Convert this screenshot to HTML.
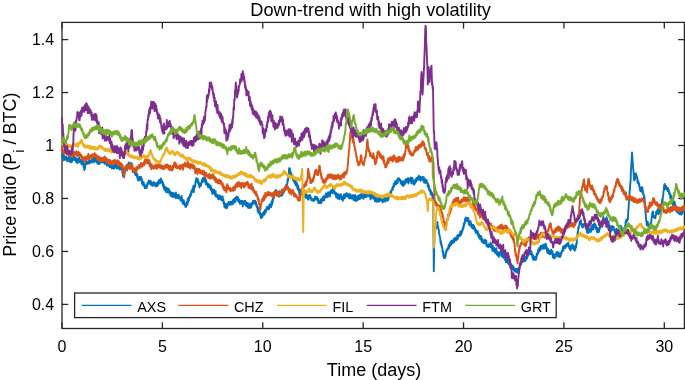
<!DOCTYPE html>
<html><head><meta charset="utf-8"><style>
html,body{margin:0;padding:0;background:#fff;overflow:hidden;width:685px;height:380px;}
svg{display:block;font-family:"Liberation Sans",sans-serif;will-change:transform;}
</style></head><body>
<svg width="685" height="380" viewBox="0 0 685 380">
<rect width="685" height="380" fill="#fff"/>
<g stroke="#262626" stroke-width="1.3" fill="none">
<rect x="62.0" y="22.4" width="622.40" height="306.10"/>
<line x1="62.00" y1="328.5" x2="62.00" y2="322.3"/><line x1="62.00" y1="22.4" x2="62.00" y2="28.599999999999998"/><line x1="162.38" y1="328.5" x2="162.38" y2="322.3"/><line x1="162.38" y1="22.4" x2="162.38" y2="28.599999999999998"/><line x1="262.77" y1="328.5" x2="262.77" y2="322.3"/><line x1="262.77" y1="22.4" x2="262.77" y2="28.599999999999998"/><line x1="363.16" y1="328.5" x2="363.16" y2="322.3"/><line x1="363.16" y1="22.4" x2="363.16" y2="28.599999999999998"/><line x1="463.54" y1="328.5" x2="463.54" y2="322.3"/><line x1="463.54" y1="22.4" x2="463.54" y2="28.599999999999998"/><line x1="563.93" y1="328.5" x2="563.93" y2="322.3"/><line x1="563.93" y1="22.4" x2="563.93" y2="28.599999999999998"/><line x1="664.31" y1="328.5" x2="664.31" y2="322.3"/><line x1="664.31" y1="22.4" x2="664.31" y2="28.599999999999998"/><line x1="62.0" y1="304.40" x2="68.2" y2="304.40"/><line x1="684.4" y1="304.40" x2="678.1999999999999" y2="304.40"/><line x1="62.0" y1="251.44" x2="68.2" y2="251.44"/><line x1="684.4" y1="251.44" x2="678.1999999999999" y2="251.44"/><line x1="62.0" y1="198.48" x2="68.2" y2="198.48"/><line x1="684.4" y1="198.48" x2="678.1999999999999" y2="198.48"/><line x1="62.0" y1="145.52" x2="68.2" y2="145.52"/><line x1="684.4" y1="145.52" x2="678.1999999999999" y2="145.52"/><line x1="62.0" y1="92.56" x2="68.2" y2="92.56"/><line x1="684.4" y1="92.56" x2="678.1999999999999" y2="92.56"/><line x1="62.0" y1="39.60" x2="68.2" y2="39.60"/><line x1="684.4" y1="39.60" x2="678.1999999999999" y2="39.60"/>
</g>
<g fill="none" stroke-linejoin="round" stroke-linecap="round">
<path d="M62.0 155.0 L62.3 156.6 L62.7 154.2 L63.0 156.2 L63.4 153.9 L63.7 160.4 L64.1 157.0 L64.4 158.6 L64.8 156.2 L65.1 159.8 L65.5 157.5 L65.9 158.4 L66.2 156.8 L66.6 159.8 L66.9 158.2 L67.3 161.3 L67.6 158.6 L68.0 158.8 L68.4 157.6 L68.7 160.6 L69.1 156.6 L69.4 161.1 L69.8 159.5 L70.1 162.1 L70.5 158.8 L70.9 160.8 L71.2 157.0 L71.6 162.2 L71.9 157.0 L72.3 161.2 L72.6 157.3 L73.0 157.5 L73.4 157.1 L73.7 159.9 L74.1 155.8 L74.4 159.2 L74.8 157.3 L75.1 160.2 L75.5 158.8 L75.9 161.7 L76.2 158.2 L76.6 162.1 L76.9 159.8 L77.3 163.2 L77.6 159.0 L78.0 160.0 L78.4 159.1 L78.7 161.9 L79.1 157.3 L79.4 162.3 L79.8 159.5 L80.1 162.3 L80.5 160.0 L80.9 162.8 L81.2 160.5 L81.6 164.5 L81.9 161.7 L82.3 163.8 L82.6 159.3 L83.0 162.5 L83.3 162.4 L83.6 167.2 L83.9 165.4 L84.2 170.0 L84.6 167.3 L84.9 168.7 L85.2 163.7 L85.5 163.8 L85.9 161.7 L86.2 164.2 L86.6 161.2 L86.9 163.9 L87.3 162.1 L87.6 163.8 L88.0 162.5 L88.4 163.4 L88.7 160.4 L89.1 163.6 L89.4 159.5 L89.8 162.8 L90.1 161.4 L90.5 161.2 L90.9 160.8 L91.2 162.4 L91.6 160.2 L91.9 162.7 L92.3 158.2 L92.6 160.4 L93.0 160.0 L93.4 160.8 L93.7 157.9 L94.1 162.4 L94.4 160.1 L94.8 161.7 L95.1 157.5 L95.5 161.2 L95.9 159.6 L96.2 161.1 L96.6 159.0 L96.9 162.4 L97.3 159.8 L97.6 163.8 L98.0 162.5 L98.4 163.9 L98.7 162.0 L99.1 164.0 L99.4 161.5 L99.8 163.7 L100.1 159.6 L100.5 161.2 L100.9 157.9 L101.2 161.7 L101.6 158.7 L101.9 162.4 L102.3 160.3 L102.6 162.0 L103.0 162.5 L103.4 162.6 L103.7 160.3 L104.1 162.5 L104.4 158.7 L104.8 163.7 L105.1 159.6 L105.5 163.8 L105.9 160.9 L106.2 162.6 L106.6 161.2 L106.9 165.6 L107.3 162.7 L107.6 165.3 L108.0 165.0 L108.4 165.7 L108.7 162.7 L109.1 165.7 L109.4 162.8 L109.8 167.3 L110.1 164.5 L110.5 166.2 L110.9 165.3 L111.2 167.3 L111.6 163.5 L111.9 168.5 L112.3 165.4 L112.6 168.3 L113.0 166.2 L113.4 168.2 L113.7 165.4 L114.1 168.7 L114.4 164.4 L114.8 168.0 L115.1 163.7 L115.5 165.0 L115.9 164.0 L116.2 166.7 L116.6 164.9 L116.9 168.5 L117.3 165.7 L117.6 167.9 L118.0 166.2 L118.4 168.2 L118.7 163.5 L119.1 168.4 L119.4 165.0 L119.8 169.6 L120.1 165.4 L120.5 167.5 L120.8 165.2 L121.1 169.1 L121.4 163.5 L121.8 170.0 L122.1 168.4 L122.4 172.7 L122.7 172.6 L123.0 176.2 L123.3 172.9 L123.6 176.5 L123.9 171.1 L124.2 172.5 L124.6 169.0 L124.9 171.5 L125.2 167.1 L125.5 168.8 L125.9 166.1 L126.2 169.5 L126.6 166.7 L126.9 170.5 L127.3 164.7 L127.6 167.7 L128.0 165.0 L128.4 165.0 L128.7 162.5 L129.1 164.8 L129.4 163.2 L129.8 164.2 L130.1 163.2 L130.5 163.8 L130.9 163.2 L131.2 165.0 L131.6 163.2 L131.9 166.4 L132.3 164.9 L132.6 170.0 L133.0 170.0 L133.4 171.2 L133.7 168.8 L134.1 172.0 L134.4 170.8 L134.8 173.4 L135.1 171.3 L135.5 175.0 L135.9 172.0 L136.2 174.9 L136.6 172.9 L136.9 176.6 L137.3 174.4 L137.6 178.9 L138.0 180.0 L138.4 180.6 L138.7 177.6 L139.1 180.4 L139.4 176.9 L139.8 179.3 L140.1 176.9 L140.5 177.5 L140.9 176.9 L141.2 180.3 L141.6 178.1 L141.9 183.2 L142.3 180.3 L142.6 184.6 L143.0 182.5 L143.4 185.5 L143.7 182.1 L144.1 185.5 L144.4 184.3 L144.8 188.1 L145.1 185.8 L145.5 187.5 L145.9 187.3 L146.2 188.1 L146.6 185.1 L146.9 187.6 L147.3 183.3 L147.6 184.8 L148.0 182.5 L148.4 183.7 L148.7 180.4 L149.1 183.0 L149.4 181.0 L149.8 183.9 L150.1 180.8 L150.5 181.2 L150.9 181.4 L151.2 184.8 L151.6 182.3 L151.9 185.3 L152.3 183.1 L152.6 185.8 L153.0 183.8 L153.4 183.8 L153.7 182.0 L154.1 184.8 L154.4 183.0 L154.8 185.5 L155.1 183.5 L155.5 186.2 L155.9 183.1 L156.2 185.1 L156.6 183.2 L157.0 186.4 L157.3 182.5 L157.7 185.2 L158.0 181.8 L158.4 184.5 L158.8 180.2 L159.1 182.8 L159.5 180.0 L159.9 183.3 L160.2 179.9 L160.6 182.8 L160.9 178.5 L161.3 182.3 L161.6 180.1 L162.0 182.5 L162.4 181.2 L162.7 184.9 L163.1 183.0 L163.4 187.2 L163.8 184.8 L164.1 189.0 L164.5 188.8 L164.9 190.1 L165.2 187.0 L165.6 190.8 L165.9 188.6 L166.3 192.3 L166.6 187.6 L167.0 191.0 L167.4 188.4 L167.7 192.2 L168.1 188.9 L168.4 190.8 L168.8 188.9 L169.1 193.0 L169.5 191.2 L169.9 194.1 L170.2 191.2 L170.6 195.6 L170.9 192.4 L171.3 196.2 L171.6 192.6 L172.0 194.7 L172.4 193.4 L172.7 197.0 L173.1 192.7 L173.4 196.2 L173.8 193.8 L174.1 196.9 L174.5 193.8 L174.9 196.1 L175.2 194.9 L175.6 198.0 L175.9 192.5 L176.3 197.7 L176.6 194.5 L177.0 197.7 L177.4 195.1 L177.7 198.2 L178.1 195.2 L178.4 198.2 L178.8 194.7 L179.1 198.3 L179.5 197.5 L179.9 198.8 L180.2 197.4 L180.6 200.6 L180.9 197.2 L181.3 199.7 L181.6 195.9 L182.0 201.5 L182.4 199.4 L182.7 203.9 L183.1 200.5 L183.4 202.8 L183.8 200.2 L184.1 202.9 L184.5 205.0 L184.8 205.0 L185.1 203.8 L185.4 206.8 L185.8 206.2 L186.1 206.8 L186.4 202.3 L186.8 205.3 L187.1 201.7 L187.5 204.7 L187.8 198.4 L188.1 202.2 L188.5 198.9 L188.8 200.7 L189.2 196.8 L189.5 197.5 L189.9 194.8 L190.2 197.2 L190.6 194.0 L190.9 195.5 L191.3 191.1 L191.6 193.4 L192.0 190.0 L192.4 191.3 L192.7 188.2 L193.1 191.0 L193.4 185.8 L193.8 192.1 L194.1 189.0 L194.5 187.5 L194.9 185.3 L195.2 186.5 L195.6 180.8 L195.9 182.0 L196.3 178.2 L196.6 181.5 L197.0 178.8 L197.4 180.5 L197.7 178.7 L198.1 183.4 L198.4 180.9 L198.8 185.0 L199.1 182.9 L199.5 187.5 L199.9 184.1 L200.2 186.2 L200.6 183.8 L200.9 185.5 L201.3 182.5 L201.6 182.6 L202.0 180.0 L202.4 182.3 L202.7 178.2 L203.1 181.6 L203.4 177.9 L203.8 180.8 L204.1 178.7 L204.5 180.0 L204.9 177.1 L205.2 182.1 L205.6 178.6 L205.9 184.3 L206.3 180.8 L206.6 184.5 L207.0 185.0 L207.4 185.5 L207.7 183.2 L208.1 187.1 L208.4 184.4 L208.8 186.1 L209.1 184.5 L209.5 187.8 L209.9 186.7 L210.2 189.0 L210.6 185.8 L210.9 189.9 L211.3 187.2 L211.6 191.5 L212.0 190.0 L212.4 193.9 L212.7 189.5 L213.1 192.6 L213.4 190.3 L213.8 193.3 L214.1 189.8 L214.5 193.7 L214.9 191.2 L215.2 195.2 L215.6 191.3 L215.9 196.4 L216.3 194.8 L216.6 196.7 L217.0 195.0 L217.4 197.4 L217.7 194.9 L218.1 198.7 L218.4 196.0 L218.8 199.4 L219.1 195.9 L219.5 198.1 L219.9 195.4 L220.2 198.8 L220.6 196.3 L220.9 199.6 L221.3 196.6 L221.6 200.1 L222.0 198.8 L222.3 199.2 L222.7 196.4 L223.0 201.2 L223.4 199.7 L223.7 203.6 L224.0 202.2 L224.4 206.9 L224.7 203.4 L225.1 207.6 L225.4 203.7 L225.8 207.5 L226.1 204.0 L226.4 208.1 L226.8 205.0 L227.1 208.0 L227.5 204.8 L227.8 206.0 L228.1 202.9 L228.5 204.6 L228.8 201.9 L229.2 204.7 L229.5 202.5 L229.9 204.9 L230.2 201.9 L230.6 204.0 L230.9 202.0 L231.3 204.5 L231.6 202.5 L232.0 203.8 L232.4 200.9 L232.7 204.3 L233.1 199.9 L233.4 202.6 L233.8 199.3 L234.1 202.7 L234.5 200.0 L234.9 202.1 L235.2 197.7 L235.6 201.6 L235.9 198.4 L236.3 199.0 L236.6 196.4 L237.0 197.5 L237.4 197.3 L237.7 200.0 L238.1 197.5 L238.4 201.7 L238.8 199.3 L239.1 201.6 L239.5 200.0 L239.9 203.8 L240.2 200.8 L240.6 203.8 L240.9 202.1 L241.3 203.5 L241.6 201.0 L242.0 201.2 L242.4 200.9 L242.7 206.5 L243.1 201.2 L243.4 203.8 L243.8 201.2 L244.1 202.1 L244.5 202.5 L244.9 204.2 L245.2 200.6 L245.6 205.1 L245.9 201.9 L246.3 206.1 L246.6 203.3 L247.0 203.8 L247.4 203.1 L247.7 207.5 L248.1 203.2 L248.4 205.5 L248.8 204.4 L249.1 208.1 L249.5 205.0 L249.9 207.9 L250.2 203.8 L250.6 207.9 L250.9 204.1 L251.3 207.2 L251.6 203.3 L252.0 205.0 L252.4 202.4 L252.7 204.5 L253.1 200.7 L253.4 203.6 L253.8 200.7 L254.1 203.2 L254.5 201.2 L254.9 201.0 L255.2 200.7 L255.6 204.2 L255.9 201.6 L256.3 206.1 L256.6 203.9 L257.0 207.5 L257.4 206.9 L257.7 211.2 L258.1 207.9 L258.4 212.9 L258.8 210.2 L259.1 212.5 L259.5 211.2 L259.8 214.4 L260.1 212.5 L260.4 215.6 L260.8 217.5 L261.1 218.1 L261.5 214.0 L261.8 217.5 L262.2 214.4 L262.5 217.0 L262.9 213.5 L263.2 213.8 L263.6 211.6 L264.0 214.8 L264.3 211.6 L264.7 214.1 L265.0 210.0 L265.4 212.9 L265.8 211.2 L266.1 211.4 L266.5 208.0 L266.8 209.6 L267.2 206.8 L267.5 209.2 L267.9 207.2 L268.2 207.5 L268.6 207.1 L269.0 209.3 L269.3 204.7 L269.7 207.9 L270.0 204.5 L270.4 207.1 L270.8 205.0 L271.1 207.1 L271.5 201.6 L271.8 205.4 L272.2 200.2 L272.5 203.5 L272.9 199.1 L273.2 200.0 L273.6 196.3 L274.0 198.0 L274.3 191.7 L274.7 195.4 L275.0 191.1 L275.4 192.4 L275.8 190.0 L276.1 192.8 L276.4 190.5 L276.7 195.6 L277.0 195.0 L277.4 195.3 L277.7 193.3 L278.1 195.6 L278.4 194.6 L278.8 196.6 L279.1 191.5 L279.5 192.5 L279.9 191.3 L280.2 192.7 L280.6 191.8 L280.9 195.9 L281.3 193.4 L281.6 195.9 L282.0 193.8 L282.4 195.0 L282.7 191.5 L283.1 193.6 L283.4 190.4 L283.8 192.6 L284.1 188.8 L284.5 191.2 L284.9 188.2 L285.2 190.4 L285.6 186.2 L285.9 188.8 L286.3 184.6 L286.6 186.1 L287.0 185.0 L287.4 182.8 L287.7 179.1 L288.1 180.7 L288.4 176.0 L288.8 174.6 L289.1 168.2 L289.5 168.8 L289.8 168.3 L290.2 172.9 L290.5 171.3 L290.8 175.5 L291.2 173.3 L291.5 175.0 L291.9 175.1 L292.2 177.5 L292.6 175.9 L292.9 179.6 L293.3 177.1 L293.6 180.4 L294.0 180.0 L294.4 182.6 L294.7 179.8 L295.1 183.6 L295.4 181.2 L295.8 185.2 L296.1 181.9 L296.5 185.0 L296.9 183.0 L297.2 187.9 L297.6 185.0 L297.9 189.6 L298.3 185.9 L298.6 189.8 L299.0 190.0 L299.4 195.0 L299.7 189.4 L300.1 193.1 L300.4 189.9 L300.8 193.3 L301.1 190.7 L301.5 193.8 L301.8 191.2 L302.2 194.4 L302.5 191.2 L302.8 194.8 L303.2 192.6 L303.5 196.2 L303.8 193.0 L304.2 196.6 L304.5 196.2 L304.9 196.6 L305.2 193.1 L305.6 197.7 L305.9 193.8 L306.3 197.8 L306.6 194.3 L307.0 197.5 L307.4 196.9 L307.7 199.1 L308.1 196.0 L308.4 199.7 L308.8 196.0 L309.1 198.5 L309.5 195.0 L309.9 197.9 L310.2 195.3 L310.6 198.3 L310.9 197.3 L311.3 200.2 L311.6 199.0 L312.0 200.0 L312.4 199.5 L312.7 200.6 L313.1 199.0 L313.4 201.1 L313.8 198.7 L314.1 200.9 L314.5 198.8 L314.9 199.3 L315.2 196.5 L315.6 198.2 L315.9 196.9 L316.3 199.7 L316.6 196.9 L317.0 197.5 L317.4 198.3 L317.7 200.6 L318.1 198.8 L318.4 203.1 L318.8 200.3 L319.1 202.8 L319.5 202.5 L319.9 203.1 L320.2 202.3 L320.6 203.1 L320.9 199.5 L321.3 203.1 L321.6 198.9 L322.0 200.0 L322.4 198.4 L322.7 200.9 L323.1 196.5 L323.4 200.4 L323.8 196.4 L324.1 200.3 L324.5 196.2 L324.9 198.1 L325.2 195.3 L325.6 197.5 L325.9 193.5 L326.3 197.0 L326.6 193.6 L327.0 195.0 L327.4 193.5 L327.7 197.2 L328.1 192.3 L328.4 195.5 L328.8 192.4 L329.1 195.0 L329.5 193.8 L329.9 196.6 L330.2 191.7 L330.6 193.6 L330.9 190.4 L331.3 192.5 L331.6 190.2 L332.0 191.2 L332.4 189.4 L332.7 193.3 L333.1 188.5 L333.4 192.1 L333.8 188.5 L334.1 191.9 L334.5 192.5 L334.9 193.8 L335.2 192.2 L335.6 195.4 L335.9 193.2 L336.3 197.3 L336.6 193.3 L337.0 195.0 L337.4 194.0 L337.7 198.6 L338.1 194.8 L338.4 197.7 L338.8 194.5 L339.1 199.0 L339.5 196.2 L339.9 197.5 L340.2 194.9 L340.6 196.9 L340.9 194.1 L341.3 199.1 L341.6 197.0 L342.0 197.5 L342.4 196.7 L342.7 200.7 L343.1 196.6 L343.4 199.9 L343.8 194.7 L344.1 197.2 L344.5 194.5 L344.9 198.1 L345.2 194.8 L345.6 196.6 L345.9 193.7 L346.3 195.9 L346.6 193.1 L347.0 196.2 L347.4 193.7 L347.7 196.6 L348.1 194.2 L348.4 196.5 L348.8 194.5 L349.1 198.2 L349.5 194.6 L349.9 198.5 L350.2 194.0 L350.6 198.2 L350.9 195.6 L351.3 198.5 L351.6 196.0 L352.0 197.5 L352.4 195.3 L352.7 198.4 L353.1 195.1 L353.4 199.9 L353.8 195.4 L354.1 199.4 L354.5 196.1 L354.9 200.6 L355.2 195.0 L355.6 198.9 L355.9 196.8 L356.3 201.0 L356.6 198.0 L357.0 197.5 L357.4 196.1 L357.7 200.2 L358.1 196.1 L358.4 199.1 L358.8 195.4 L359.1 199.1 L359.5 195.0 L359.9 199.1 L360.2 195.6 L360.6 198.1 L360.9 194.4 L361.3 197.6 L361.6 193.5 L362.0 197.5 L362.4 195.1 L362.7 197.5 L363.1 195.3 L363.4 198.8 L363.8 195.2 L364.1 197.2 L364.5 193.3 L364.9 197.1 L365.2 194.0 L365.6 195.6 L365.9 192.9 L366.3 197.2 L366.6 194.0 L367.0 196.2 L367.4 193.3 L367.7 195.5 L368.1 192.7 L368.4 195.5 L368.8 193.3 L369.1 196.3 L369.5 195.3 L369.9 196.8 L370.2 195.1 L370.6 199.4 L370.9 194.5 L371.3 197.6 L371.6 195.4 L372.0 197.5 L372.4 195.1 L372.7 197.2 L373.1 195.1 L373.4 198.7 L373.8 195.6 L374.1 198.1 L374.5 196.2 L374.9 201.1 L375.2 197.2 L375.6 201.1 L375.9 198.0 L376.3 201.8 L376.6 198.0 L377.0 198.8 L377.4 198.3 L377.7 201.6 L378.1 198.8 L378.4 201.4 L378.8 198.8 L379.1 201.6 L379.5 197.3 L379.9 200.0 L380.2 196.6 L380.6 200.4 L380.9 196.1 L381.3 200.9 L381.6 198.0 L382.0 200.0 L382.4 198.6 L382.7 202.3 L383.1 199.0 L383.4 201.4 L383.8 197.7 L384.1 201.4 L384.5 199.0 L384.9 201.2 L385.2 198.7 L385.6 201.5 L385.9 196.6 L386.3 200.2 L386.6 195.4 L387.0 198.8 L387.4 198.0 L387.7 200.6 L388.1 196.0 L388.4 199.6 L388.8 194.4 L389.1 196.9 L389.5 195.0 L389.9 196.2 L390.2 192.3 L390.6 194.9 L390.9 190.7 L391.3 192.3 L391.6 190.2 L392.0 190.0 L392.4 187.7 L392.7 189.9 L393.1 186.4 L393.4 187.5 L393.8 183.7 L394.1 186.5 L394.5 185.0 L394.9 184.2 L395.2 181.2 L395.6 183.2 L395.9 181.1 L396.3 184.2 L396.6 181.4 L397.0 182.5 L397.4 179.1 L397.7 183.0 L398.1 178.3 L398.4 179.5 L398.8 178.2 L399.1 179.6 L399.5 178.8 L399.9 180.6 L400.2 179.8 L400.6 183.0 L400.9 180.7 L401.3 183.9 L401.6 181.9 L402.0 185.0 L402.4 181.8 L402.7 185.6 L403.1 181.3 L403.4 185.8 L403.8 182.0 L404.1 184.8 L404.5 182.5 L404.9 184.1 L405.2 180.0 L405.6 182.3 L405.9 179.2 L406.3 182.5 L406.6 179.8 L407.0 180.0 L407.4 178.5 L407.7 181.9 L408.1 178.5 L408.4 183.5 L408.8 178.1 L409.1 181.2 L409.5 178.8 L409.9 181.2 L410.2 178.7 L410.6 180.4 L410.9 177.5 L411.3 183.5 L411.6 179.1 L412.0 180.0 L412.4 178.0 L412.7 182.1 L413.1 180.7 L413.4 183.9 L413.8 180.8 L414.1 184.6 L414.5 181.2 L414.9 183.7 L415.2 179.7 L415.6 182.4 L415.9 179.0 L416.3 181.4 L416.6 177.9 L417.0 178.8 L417.4 177.6 L417.7 179.7 L418.1 177.8 L418.4 179.8 L418.8 175.8 L419.1 179.2 L419.5 177.5 L419.9 179.1 L420.2 176.6 L420.6 180.9 L420.9 177.1 L421.3 179.6 L421.6 177.1 L422.0 177.5 L422.4 177.1 L422.7 179.5 L423.1 177.1 L423.4 180.9 L423.8 177.1 L424.1 182.5 L424.5 180.0 L424.9 182.1 L425.2 179.2 L425.6 183.0 L425.9 180.1 L426.3 182.0 L426.6 180.1 L427.0 182.5 L427.4 182.6 L427.7 186.2 L428.1 183.8 L428.4 187.4 L428.8 185.4 L429.1 189.9 L429.5 190.0 L429.9 191.3 L430.2 189.5 L430.6 193.7 L430.9 190.9 L431.3 194.8 L431.6 192.1 L432.0 193.8 L432.3 193.6 L432.6 199.2 L432.9 194.7 L433.2 195.0 L433.8 271.2 L434.1 253.2 L434.5 230.0 L434.9 231.5 L435.2 228.1 L435.6 229.6 L435.9 224.7 L436.3 227.7 L436.6 223.0 L437.0 222.5 L437.4 222.0 L437.7 227.1 L438.1 226.5 L438.4 229.3 L438.8 229.4 L439.1 234.2 L439.5 235.0 L439.9 236.9 L440.2 238.0 L440.6 243.2 L440.9 241.1 L441.3 245.3 L441.6 244.4 L442.0 247.5 L442.4 248.5 L442.7 252.7 L443.1 251.3 L443.4 256.2 L443.8 254.5 L444.1 258.1 L444.5 257.5 L444.9 258.1 L445.2 254.4 L445.6 256.4 L445.9 252.0 L446.3 252.9 L446.6 249.8 L447.0 250.0 L447.4 248.4 L447.7 250.1 L448.1 247.4 L448.4 248.1 L448.8 244.7 L449.1 248.0 L449.5 245.0 L449.9 245.8 L450.2 242.4 L450.6 245.1 L450.9 241.4 L451.3 244.9 L451.6 240.6 L452.0 242.5 L452.4 241.9 L452.7 243.1 L453.1 240.3 L453.4 242.7 L453.8 238.9 L454.1 242.3 L454.5 240.0 L454.9 240.7 L455.2 237.7 L455.6 240.1 L455.9 238.2 L456.3 240.2 L456.6 237.1 L457.0 237.5 L457.4 235.2 L457.7 239.2 L458.1 235.2 L458.4 237.0 L458.8 234.7 L459.1 235.9 L459.5 235.0 L459.9 236.0 L460.2 231.6 L460.6 234.9 L460.9 231.8 L461.3 234.7 L461.6 230.6 L462.0 232.5 L462.4 229.3 L462.7 230.5 L463.1 226.9 L463.4 228.5 L463.8 223.5 L464.1 225.8 L464.5 222.5 L464.8 223.1 L465.1 218.6 L465.4 220.1 L465.8 217.5 L466.1 219.8 L466.4 218.0 L466.7 221.0 L467.0 218.8 L467.4 220.2 L467.7 217.6 L468.1 221.5 L468.4 218.4 L468.8 224.5 L469.1 222.2 L469.5 222.5 L469.9 221.5 L470.2 225.6 L470.6 221.3 L470.9 225.2 L471.3 223.6 L471.6 227.5 L472.0 225.0 L472.4 226.8 L472.7 224.9 L473.1 228.6 L473.4 225.0 L473.8 228.9 L474.1 226.0 L474.5 227.5 L474.9 227.6 L475.2 231.3 L475.6 229.6 L475.9 232.8 L476.3 230.2 L476.6 233.2 L477.0 232.5 L477.4 233.1 L477.7 231.2 L478.1 235.7 L478.4 233.3 L478.8 237.6 L479.1 234.5 L479.5 237.5 L479.9 235.9 L480.2 239.3 L480.6 235.9 L480.9 238.9 L481.3 236.4 L481.6 241.5 L482.0 240.0 L482.4 242.2 L482.7 239.1 L483.1 242.4 L483.4 240.6 L483.8 243.4 L484.1 240.9 L484.5 242.5 L484.9 239.7 L485.2 243.3 L485.6 240.5 L485.9 243.6 L486.3 240.6 L486.6 246.0 L487.0 245.0 L487.4 246.0 L487.7 245.0 L488.1 247.4 L488.4 244.5 L488.8 246.5 L489.1 244.2 L489.5 246.2 L489.9 244.5 L490.2 246.9 L490.6 242.8 L490.9 245.0 L491.3 243.9 L491.6 248.1 L492.0 247.5 L492.4 250.7 L492.7 245.5 L493.1 250.0 L493.4 248.4 L493.8 251.2 L494.1 247.7 L494.5 250.0 L494.9 249.1 L495.2 252.9 L495.6 249.8 L495.9 252.8 L496.3 248.3 L496.6 254.4 L497.0 252.5 L497.4 255.2 L497.7 251.9 L498.1 254.8 L498.4 253.2 L498.8 256.9 L499.1 253.0 L499.5 255.0 L499.9 252.4 L500.2 254.4 L500.6 251.1 L500.9 254.0 L501.3 252.8 L501.6 256.3 L502.0 255.0 L502.4 256.0 L502.7 252.8 L503.1 257.5 L503.4 252.7 L503.8 258.0 L504.1 255.4 L504.5 257.5 L504.9 257.5 L505.2 260.4 L505.6 258.0 L505.9 262.2 L506.3 257.7 L506.6 260.0 L507.0 260.0 L507.4 262.5 L507.7 259.8 L508.1 263.1 L508.4 260.7 L508.8 264.3 L509.1 261.5 L509.5 263.8 L509.9 261.7 L510.2 266.8 L510.6 264.9 L510.9 268.6 L511.3 265.5 L511.6 269.3 L512.0 267.5 L512.4 268.8 L512.7 265.4 L513.1 269.1 L513.4 266.9 L513.8 270.5 L514.1 268.3 L514.5 271.2 L515.0 268.7 L515.4 269.8 L515.8 271.3 L516.2 272.1 L516.6 269.0 L517.0 272.6 L517.3 269.6 L517.6 272.5 L518.0 268.8 L518.3 271.3 L518.7 268.9 L519.1 270.3 L519.5 267.5 L519.8 268.0 L520.2 263.5 L520.6 264.9 L520.9 263.4 L521.3 262.5 L521.6 258.6 L522.0 262.5 L522.3 259.0 L522.6 261.5 L522.9 259.5 L523.2 261.6 L523.6 257.7 L523.9 260.0 L524.2 257.2 L524.5 261.2 L524.9 258.2 L525.2 261.1 L525.5 256.8 L525.9 258.3 L526.2 256.4 L526.5 259.3 L526.8 255.5 L527.2 258.0 L527.5 253.6 L527.8 256.5 L528.2 252.7 L528.5 254.7 L528.8 253.6 L529.1 254.2 L529.5 250.5 L529.8 253.5 L530.1 250.1 L530.5 254.4 L530.8 251.6 L531.1 253.9 L531.4 251.1 L531.8 255.2 L532.1 254.2 L532.4 257.4 L532.8 254.7 L533.1 259.7 L533.4 256.8 L533.8 259.7 L534.1 256.4 L534.4 259.1 L534.7 258.2 L535.1 259.5 L535.4 257.2 L535.7 259.9 L536.1 259.5 L536.4 258.4 L536.7 253.8 L537.0 255.8 L537.4 252.9 L537.7 254.4 L538.0 250.1 L538.4 253.2 L538.7 248.9 L539.0 250.8 L539.3 247.7 L539.7 251.1 L540.0 248.3 L540.3 250.2 L540.7 245.6 L541.0 248.5 L541.3 247.6 L541.6 248.8 L542.0 245.8 L542.3 248.2 L542.6 247.0 L543.0 248.8 L543.3 244.6 L543.6 248.1 L543.9 246.3 L544.3 248.2 L544.6 244.4 L544.9 248.6 L545.3 245.0 L545.6 247.0 L545.9 243.7 L546.2 247.7 L546.6 246.3 L546.9 250.9 L547.2 251.6 L547.6 252.9 L547.9 248.8 L548.2 253.3 L548.6 253.6 L548.9 253.4 L549.2 250.5 L549.5 253.5 L549.9 254.2 L550.2 254.3 L550.5 251.0 L550.9 253.9 L551.2 249.8 L551.5 253.1 L551.8 252.9 L552.2 253.3 L552.5 251.2 L552.8 257.4 L553.2 254.2 L553.5 257.5 L553.8 255.0 L554.1 258.3 L554.5 255.5 L554.8 258.1 L555.1 254.3 L555.5 256.7 L555.8 254.9 L556.1 256.2 L556.4 252.3 L556.8 255.2 L557.1 254.2 L557.4 254.3 L557.8 251.9 L558.1 256.5 L558.4 255.5 L558.8 256.1 L559.1 253.1 L559.4 256.9 L559.7 255.5 L560.1 257.0 L560.4 253.2 L560.7 256.0 L561.1 252.9 L561.4 253.6 L561.7 251.1 L562.0 251.9 L562.4 250.3 L562.7 251.2 L563.0 246.8 L563.4 250.0 L563.7 248.3 L564.0 247.9 L564.3 245.7 L564.7 248.1 L565.0 246.3 L565.3 248.1 L565.7 245.0 L566.0 247.0 L566.3 245.0 L566.6 246.3 L567.0 243.6 L567.3 245.3 L567.6 243.7 L568.0 244.8 L568.3 242.8 L568.6 246.1 L568.9 245.0 L569.3 248.3 L569.6 245.6 L569.9 248.9 L570.3 246.3 L570.6 250.5 L570.9 246.9 L571.2 248.8 L571.6 245.7 L571.9 248.4 L572.2 244.4 L572.6 247.0 L572.9 245.0 L573.2 248.0 L573.6 246.0 L573.9 249.4 L574.3 247.4 L574.6 250.6 L575.0 250.0 L575.3 249.8 L575.7 245.4 L576.0 247.6 L576.3 243.4 L576.6 244.4 L577.0 237.9 L577.3 236.6 L577.6 232.9 L578.0 233.3 L578.3 227.1 L578.6 228.7 L578.9 226.3 L579.3 225.3 L579.6 221.5 L579.9 223.2 L580.3 222.4 L580.6 222.2 L580.9 220.3 L581.2 224.1 L581.6 223.7 L581.9 226.3 L582.2 224.7 L582.6 227.5 L582.9 226.3 L583.2 227.0 L583.6 224.1 L583.9 225.8 L584.2 223.7 L584.5 224.6 L584.9 221.8 L585.2 225.5 L585.5 225.0 L585.9 227.7 L586.2 225.8 L586.5 228.8 L586.8 230.3 L587.2 232.9 L587.5 228.7 L587.8 231.1 L588.2 231.6 L588.5 232.8 L588.8 228.6 L589.1 230.2 L589.5 228.9 L589.8 231.0 L590.1 228.7 L590.5 232.2 L590.8 231.6 L591.1 231.5 L591.4 226.3 L591.8 228.4 L592.1 226.3 L592.4 227.2 L592.8 225.0 L593.1 229.7 L593.4 227.6 L593.8 227.5 L594.1 223.4 L594.4 226.1 L594.7 223.7 L595.1 226.5 L595.4 224.4 L595.7 228.7 L596.1 226.3 L596.4 229.5 L596.7 228.5 L597.0 232.2 L597.4 228.9 L597.7 230.9 L598.0 228.0 L598.4 232.2 L598.7 231.6 L599.0 231.7 L599.3 228.1 L599.7 229.5 L600.0 226.3 L600.3 227.8 L600.7 223.9 L601.0 225.8 L601.3 222.4 L601.6 224.4 L602.0 220.9 L602.3 223.5 L602.6 219.7 L603.0 220.8 L603.3 217.0 L603.6 219.0 L603.9 218.4 L604.3 221.1 L604.6 219.2 L604.9 221.4 L605.3 219.7 L605.6 221.5 L605.9 218.8 L606.2 220.0 L606.6 217.1 L606.9 219.3 L607.2 218.6 L607.6 223.2 L607.9 221.1 L608.2 224.7 L608.6 221.4 L608.9 225.5 L609.2 225.0 L609.5 229.7 L609.9 225.9 L610.2 229.6 L610.5 230.3 L610.9 231.8 L611.2 226.4 L611.5 230.6 L611.8 230.3 L612.2 228.4 L612.5 225.9 L612.8 228.6 L613.2 227.6 L613.5 228.7 L613.8 227.0 L614.1 230.4 L614.5 230.3 L614.8 232.7 L615.1 230.3 L615.5 233.3 L615.8 231.0 L616.1 235.0 L616.4 228.8 L616.8 235.6 L617.1 232.9 L617.4 234.5 L617.8 231.9 L618.1 234.1 L618.4 230.3 L618.8 232.5 L619.1 229.2 L619.4 231.4 L619.7 228.9 L620.1 227.9 L620.4 225.7 L620.7 228.3 L621.1 226.3 L621.4 229.3 L621.7 227.3 L622.0 231.8 L622.4 231.6 L622.7 234.9 L623.0 231.8 L623.4 233.5 L623.7 232.9 L624.0 233.5 L624.3 228.7 L624.7 230.2 L625.0 226.3 L625.3 226.5 L625.7 221.3 L626.0 222.3 L626.3 219.7 L626.6 222.0 L627.0 219.2 L627.3 220.6 L627.6 220.0 L628.0 217.5 L628.3 210.1 L628.6 208.6 L628.9 201.6 L629.3 200.7 L629.6 191.5 L629.9 189.9 L630.3 183.2 L630.6 181.1 L630.9 170.8 L631.2 167.4 L631.6 160.9 L632.0 152.5 L632.2 154.9 L632.5 160.8 L632.8 162.7 L633.0 167.4 L633.4 170.1 L633.7 173.9 L633.9 177.1 L634.2 180.5 L634.5 176.7 L634.9 179.6 L635.2 173.8 L635.5 173.9 L635.9 173.3 L636.2 177.2 L636.5 175.3 L636.8 177.9 L637.2 177.1 L637.5 182.7 L637.8 180.3 L638.2 183.2 L638.5 181.6 L638.8 185.0 L639.1 183.6 L639.5 187.1 L639.8 186.8 L640.1 190.8 L640.5 188.4 L640.8 191.1 L641.1 189.3 L641.4 191.6 L641.8 187.1 L642.1 187.1 L642.4 187.5 L642.8 193.2 L643.1 191.7 L643.4 195.0 L643.8 194.8 L644.1 199.0 L644.4 196.7 L644.7 200.3 L645.1 204.5 L645.4 211.4 L645.7 213.9 L646.1 220.0 L646.4 221.0 L646.7 225.1 L647.0 222.9 L647.4 225.3 L647.7 221.6 L648.0 225.8 L648.4 224.2 L648.7 227.6 L649.0 225.0 L649.3 227.9 L649.7 226.6 L650.0 228.4 L650.3 223.5 L650.7 225.4 L651.0 222.2 L651.3 222.6 L651.6 218.0 L652.0 216.8 L652.3 212.7 L652.6 212.1 L653.0 211.5 L653.3 216.7 L653.6 215.4 L653.9 217.4 L654.3 217.8 L654.6 218.0 L654.9 216.2 L655.3 218.4 L655.6 216.0 L655.9 214.7 L656.2 211.5 L656.6 214.5 L656.9 211.9 L657.2 213.2 L657.6 209.3 L657.9 209.5 L658.2 210.2 L658.6 214.0 L658.9 212.1 L659.2 213.4 L659.5 211.0 L659.9 212.7 L660.2 209.0 L660.5 208.2 L660.9 206.8 L661.2 210.4 L661.5 205.1 L661.8 205.5 L662.2 199.1 L662.5 201.7 L662.8 197.4 L663.2 196.3 L663.5 191.4 L663.8 190.9 L664.1 185.6 L664.5 184.5 L664.8 183.9 L665.1 189.0 L665.5 186.0 L665.8 188.4 L666.1 186.0 L666.4 189.2 L666.8 187.3 L667.1 189.7 L667.4 187.7 L667.8 191.1 L668.1 188.1 L668.4 191.1 L668.8 189.8 L669.1 193.9 L669.4 192.1 L669.7 193.7 L670.1 194.2 L670.4 198.8 L670.7 196.0 L671.1 197.6 L671.4 195.7 L671.7 201.5 L672.0 198.0 L672.4 201.6 L672.7 201.5 L673.0 205.3 L673.4 200.6 L673.7 205.4 L674.0 201.9 L674.3 205.2 L674.7 202.0 L675.0 205.5 L675.3 204.7 L675.7 208.3 L676.0 206.1 L676.3 211.5 L676.6 207.9 L677.0 211.9 L677.3 210.3 L677.6 212.1 L678.0 209.2 L678.3 213.1 L678.6 210.7 L678.9 212.4 L679.3 210.7 L679.6 214.3 L679.9 210.6 L680.3 213.4 L680.6 210.5 L680.9 214.5 L681.2 211.6 L681.6 214.5 L681.9 210.8 L682.2 213.9 L682.6 210.2 L682.9 212.1 L683.2 208.5 L683.6 211.5 L683.9 207.6 L684.3 211.1 L684.6 207.4 L685.0 210.8" stroke="#0072BD" stroke-width="1.9"/>
<path d="M62.0 148.8 L62.3 151.6 L62.7 149.1 L63.0 151.2 L63.4 149.8 L63.7 153.6 L64.1 151.1 L64.4 153.0 L64.8 150.7 L65.1 153.5 L65.5 152.5 L65.9 152.9 L66.2 151.2 L66.6 153.9 L66.9 151.1 L67.3 154.7 L67.6 151.2 L68.0 153.8 L68.4 152.4 L68.7 156.1 L69.1 152.5 L69.4 155.8 L69.8 152.3 L70.1 155.9 L70.5 155.0 L70.9 155.7 L71.2 152.6 L71.6 155.2 L71.9 152.5 L72.3 157.0 L72.6 153.3 L73.0 153.8 L73.4 152.3 L73.7 154.9 L74.1 152.0 L74.4 155.1 L74.8 152.7 L75.1 154.6 L75.5 152.5 L75.9 154.1 L76.2 151.3 L76.6 155.6 L76.9 153.4 L77.3 156.2 L77.6 152.7 L78.0 153.8 L78.4 151.6 L78.7 155.5 L79.1 153.2 L79.4 155.0 L79.8 153.0 L80.1 156.1 L80.5 155.0 L80.9 156.9 L81.2 154.7 L81.6 159.1 L81.9 156.2 L82.3 159.1 L82.6 156.8 L83.0 158.8 L83.4 157.5 L83.7 160.4 L84.1 157.3 L84.4 160.8 L84.8 157.4 L85.1 161.6 L85.5 160.0 L85.9 160.0 L86.2 156.5 L86.6 159.7 L86.9 156.1 L87.3 158.9 L87.6 156.2 L88.0 157.5 L88.4 153.6 L88.7 159.7 L89.1 156.8 L89.4 158.9 L89.8 155.9 L90.1 157.9 L90.5 156.2 L90.9 156.6 L91.2 154.6 L91.6 158.2 L91.9 154.8 L92.3 157.6 L92.6 154.3 L93.0 156.2 L93.4 154.8 L93.7 156.9 L94.1 154.2 L94.4 157.0 L94.8 153.2 L95.1 156.2 L95.5 155.0 L95.9 156.7 L96.2 154.8 L96.6 158.2 L96.9 156.0 L97.3 159.6 L97.6 156.1 L98.0 157.5 L98.4 156.5 L98.7 159.9 L99.1 156.9 L99.4 159.9 L99.8 157.1 L100.1 161.2 L100.5 158.8 L100.9 161.1 L101.2 157.6 L101.6 160.5 L101.9 158.2 L102.3 161.4 L102.6 158.4 L103.0 160.0 L103.4 157.4 L103.7 160.7 L104.1 157.2 L104.4 159.9 L104.8 156.4 L105.1 159.7 L105.5 158.8 L105.9 160.9 L106.2 158.3 L106.6 161.8 L106.9 158.7 L107.3 162.9 L107.6 159.3 L108.0 160.0 L108.4 160.3 L108.7 164.1 L109.1 161.0 L109.4 163.3 L109.8 159.7 L110.1 162.3 L110.5 161.2 L110.9 164.0 L111.2 161.3 L111.6 164.2 L111.9 161.2 L112.3 164.8 L112.6 160.7 L113.0 162.5 L113.4 160.7 L113.7 163.5 L114.1 160.2 L114.4 163.3 L114.8 159.6 L115.1 162.6 L115.5 162.5 L115.9 162.7 L116.2 161.0 L116.6 163.5 L116.9 160.9 L117.3 164.3 L117.6 160.1 L118.0 163.8 L118.4 160.6 L118.7 165.8 L119.1 161.4 L119.4 164.5 L119.8 162.2 L120.1 164.9 L120.5 163.8 L120.9 166.1 L121.2 163.7 L121.6 167.8 L121.9 165.2 L122.3 167.9 L122.6 165.0 L123.0 167.5 L123.3 169.3 L123.6 174.0 L123.9 174.0 L124.2 177.5 L124.6 173.3 L124.9 173.6 L125.2 167.6 L125.5 167.5 L125.9 166.7 L126.2 169.6 L126.6 165.3 L126.9 169.0 L127.3 166.9 L127.6 168.5 L128.0 166.2 L128.4 168.1 L128.7 164.8 L129.1 168.2 L129.4 165.2 L129.8 169.1 L130.1 163.6 L130.5 165.0 L130.9 165.0 L131.2 167.7 L131.6 164.7 L131.9 168.7 L132.3 165.3 L132.6 172.4 L133.0 168.8 L133.4 170.6 L133.7 168.4 L134.1 171.6 L134.4 168.5 L134.8 170.3 L135.1 168.1 L135.5 170.0 L135.9 169.5 L136.2 172.0 L136.6 167.5 L136.9 170.1 L137.3 166.8 L137.6 169.2 L138.0 167.5 L138.4 167.9 L138.7 165.1 L139.1 167.9 L139.4 165.1 L139.8 168.2 L140.1 165.2 L140.5 165.0 L140.9 162.9 L141.2 165.8 L141.6 163.2 L141.9 166.8 L142.3 163.6 L142.6 166.2 L143.0 163.8 L143.4 165.2 L143.7 162.6 L144.1 165.4 L144.4 160.9 L144.8 164.1 L145.1 159.2 L145.5 161.2 L145.9 160.0 L146.2 162.6 L146.6 158.5 L146.9 162.9 L147.3 159.8 L147.6 163.3 L148.0 160.0 L148.4 163.3 L148.7 160.1 L149.1 163.8 L149.4 160.1 L149.8 166.5 L150.1 162.9 L150.5 163.8 L150.9 164.2 L151.2 169.1 L151.6 164.2 L151.9 167.0 L152.3 165.3 L152.6 168.0 L153.0 167.5 L153.4 168.4 L153.7 166.1 L154.1 168.7 L154.4 166.1 L154.8 168.0 L155.1 165.4 L155.5 165.0 L155.8 164.3 L156.2 167.8 L156.5 165.5 L156.9 168.9 L157.2 165.2 L157.6 168.1 L157.9 164.8 L158.2 167.2 L158.6 164.3 L158.9 166.2 L159.3 165.3 L159.6 167.7 L159.9 165.3 L160.3 167.5 L160.6 165.3 L161.0 168.4 L161.3 165.3 L161.7 168.2 L162.0 167.5 L162.4 168.4 L162.7 166.0 L163.1 169.1 L163.4 167.8 L163.8 169.3 L164.1 165.6 L164.5 168.2 L164.9 165.9 L165.2 168.3 L165.6 164.9 L165.9 166.9 L166.3 164.4 L166.6 167.2 L167.0 165.0 L167.4 166.9 L167.7 164.4 L168.1 168.4 L168.4 165.6 L168.8 169.1 L169.1 166.3 L169.5 170.1 L169.9 165.8 L170.2 169.3 L170.6 166.0 L170.9 169.4 L171.3 167.2 L171.6 170.6 L172.0 170.0 L172.4 170.3 L172.7 166.0 L173.1 168.8 L173.4 165.1 L173.8 167.2 L174.1 163.4 L174.5 162.5 L174.9 162.4 L175.2 165.6 L175.6 163.0 L175.9 167.5 L176.3 164.2 L176.6 168.1 L177.0 167.5 L177.4 168.1 L177.7 166.3 L178.1 168.1 L178.4 166.5 L178.8 168.1 L179.1 166.1 L179.5 168.8 L179.9 164.9 L180.2 169.5 L180.6 165.5 L180.9 168.5 L181.3 165.5 L181.6 167.7 L182.0 166.2 L182.4 167.4 L182.7 164.4 L183.1 169.8 L183.4 164.4 L183.8 166.2 L184.1 164.1 L184.5 165.8 L184.9 162.8 L185.2 165.9 L185.6 163.6 L185.9 166.7 L186.3 163.6 L186.6 166.2 L187.0 165.0 L187.4 166.0 L187.7 161.2 L188.1 167.2 L188.4 163.8 L188.8 167.2 L189.1 163.5 L189.5 167.6 L189.9 164.3 L190.2 168.6 L190.6 164.6 L190.9 167.5 L191.3 164.2 L191.6 167.4 L192.0 166.2 L192.4 166.8 L192.7 164.7 L193.1 168.4 L193.4 165.7 L193.8 168.4 L194.1 165.6 L194.5 169.3 L194.9 167.2 L195.2 173.3 L195.6 168.8 L195.9 171.4 L196.3 168.6 L196.6 171.1 L197.0 168.8 L197.4 174.3 L197.7 169.8 L198.1 172.5 L198.4 169.1 L198.8 172.3 L199.1 168.8 L199.5 171.8 L199.9 170.0 L200.2 173.6 L200.6 170.1 L200.9 173.2 L201.3 171.8 L201.6 173.3 L202.0 172.5 L202.4 174.0 L202.7 170.8 L203.1 174.2 L203.4 172.3 L203.8 175.0 L204.1 171.3 L204.5 177.2 L204.9 173.2 L205.2 176.1 L205.6 172.9 L205.9 175.9 L206.3 172.9 L206.6 175.7 L207.0 175.0 L207.4 176.8 L207.7 175.2 L208.1 177.9 L208.4 174.6 L208.8 177.3 L209.1 173.9 L209.5 178.1 L209.9 175.1 L210.2 178.7 L210.6 174.9 L210.9 178.3 L211.3 175.9 L211.6 178.4 L212.0 177.5 L212.4 176.7 L212.7 174.1 L213.1 176.7 L213.4 174.7 L213.8 178.7 L214.1 176.5 L214.5 180.3 L214.9 177.1 L215.2 179.5 L215.6 177.7 L215.9 182.1 L216.3 178.7 L216.6 182.4 L217.0 180.0 L217.4 182.7 L217.7 180.3 L218.1 183.4 L218.4 179.9 L218.8 182.5 L219.1 179.5 L219.5 183.3 L219.9 180.6 L220.2 183.6 L220.6 180.7 L220.9 183.9 L221.3 181.0 L221.6 184.0 L222.0 183.8 L222.3 186.0 L222.7 183.4 L223.0 187.6 L223.4 185.2 L223.7 189.3 L224.0 186.6 L224.4 190.2 L224.7 187.3 L225.1 190.5 L225.4 188.4 L225.8 190.0 L226.1 187.7 L226.4 192.3 L226.7 185.1 L227.0 186.2 L227.4 184.1 L227.7 189.4 L228.1 185.9 L228.4 189.1 L228.8 187.5 L229.1 189.5 L229.5 188.0 L229.9 190.3 L230.2 187.9 L230.6 191.4 L230.9 188.7 L231.3 190.9 L231.6 188.7 L232.0 190.0 L232.4 188.6 L232.7 190.4 L233.1 187.3 L233.4 191.0 L233.8 187.0 L234.1 188.5 L234.5 187.5 L234.9 190.1 L235.2 185.5 L235.6 188.0 L235.9 184.2 L236.3 186.6 L236.6 183.5 L237.0 185.0 L237.4 182.8 L237.7 187.0 L238.1 183.0 L238.4 185.9 L238.8 182.0 L239.1 184.7 L239.5 182.8 L239.9 186.4 L240.2 183.3 L240.6 186.4 L240.9 183.2 L241.3 188.1 L241.6 183.1 L242.0 183.8 L242.4 182.9 L242.7 186.0 L243.1 183.3 L243.4 186.5 L243.8 183.6 L244.1 187.6 L244.5 185.0 L244.9 186.7 L245.2 182.7 L245.6 185.5 L245.9 183.3 L246.3 184.6 L246.6 182.5 L247.0 182.5 L247.4 181.9 L247.7 185.0 L248.1 183.0 L248.4 187.9 L248.8 185.1 L249.1 188.0 L249.5 186.2 L249.9 188.0 L250.2 184.5 L250.6 186.8 L250.9 184.4 L251.3 189.2 L251.6 183.6 L252.0 188.8 L252.4 186.9 L252.7 190.5 L253.1 187.3 L253.4 190.3 L253.8 189.5 L254.1 192.5 L254.5 191.2 L254.9 193.2 L255.2 191.6 L255.6 194.5 L255.9 191.4 L256.3 195.9 L256.6 193.7 L257.0 195.0 L257.4 195.2 L257.7 199.3 L258.1 197.4 L258.4 201.0 L258.8 199.4 L259.1 204.0 L259.5 205.0 L259.9 208.7 L260.2 210.0 L260.6 208.6 L260.9 203.8 L261.3 204.8 L261.6 200.9 L262.0 200.0 L262.4 198.8 L262.7 201.3 L263.1 197.7 L263.4 200.6 L263.8 195.6 L264.1 200.2 L264.5 197.5 L264.9 198.1 L265.2 193.0 L265.6 196.9 L265.9 193.5 L266.3 196.7 L266.6 193.8 L267.0 195.0 L267.4 192.3 L267.7 195.3 L268.1 192.4 L268.4 195.3 L268.8 192.0 L269.1 194.4 L269.5 193.8 L269.9 195.3 L270.2 193.0 L270.6 194.7 L270.9 193.3 L271.3 195.9 L271.6 193.4 L272.0 196.2 L272.4 195.9 L272.7 198.2 L273.1 192.8 L273.4 196.5 L273.8 193.3 L274.1 196.2 L274.5 192.5 L274.9 193.3 L275.2 191.5 L275.6 194.0 L275.9 192.0 L276.3 194.8 L276.6 191.3 L277.0 192.5 L277.4 191.4 L277.7 195.6 L278.1 192.5 L278.4 195.6 L278.8 193.7 L279.1 196.7 L279.5 193.8 L279.9 194.7 L280.2 192.0 L280.6 194.2 L280.9 191.9 L281.3 193.6 L281.6 190.0 L282.0 191.2 L282.4 189.8 L282.7 192.9 L283.1 189.0 L283.4 191.4 L283.8 188.7 L284.1 190.6 L284.5 188.8 L284.9 190.0 L285.2 186.9 L285.6 189.8 L285.9 186.8 L286.3 189.0 L286.6 185.7 L287.0 186.2 L287.4 185.7 L287.7 188.9 L288.1 186.9 L288.4 190.8 L288.8 188.4 L289.1 192.8 L289.5 191.2 L289.9 193.1 L290.2 189.2 L290.6 192.9 L290.9 190.8 L291.3 194.7 L291.6 191.2 L292.0 191.2 L292.4 190.0 L292.7 192.6 L293.1 190.1 L293.4 193.9 L293.8 192.0 L294.1 196.5 L294.5 193.8 L294.9 196.1 L295.2 193.8 L295.6 196.3 L295.9 194.6 L296.3 197.3 L296.6 196.0 L297.0 196.2 L297.4 196.2 L297.7 199.7 L298.1 198.1 L298.4 200.6 L298.8 197.6 L299.1 200.0 L299.5 200.0 L299.9 200.6 L300.2 195.0 L300.6 196.5 L300.9 193.0 L301.3 194.5 L301.6 189.0 L302.0 188.8 L302.4 186.9 L302.7 189.8 L303.1 184.9 L303.4 187.9 L303.8 185.3 L304.1 187.4 L304.5 185.0 L304.9 186.2 L305.2 183.2 L305.6 185.8 L305.9 181.5 L306.3 185.4 L306.6 181.2 L307.0 181.2 L307.3 178.7 L307.6 178.8 L307.9 172.3 L308.2 168.8 L308.6 170.6 L309.0 174.8 L309.3 173.7 L309.7 178.8 L310.0 177.4 L310.4 183.1 L310.8 182.5 L311.1 183.1 L311.5 180.0 L311.8 182.4 L312.2 179.6 L312.5 181.7 L312.9 178.7 L313.2 181.2 L313.6 176.4 L314.0 177.9 L314.3 174.1 L314.7 175.5 L315.0 171.0 L315.4 173.3 L315.8 170.0 L316.1 171.9 L316.5 169.7 L316.8 174.3 L317.2 171.6 L317.5 175.1 L317.9 173.0 L318.2 175.0 L318.6 170.8 L318.9 171.0 L319.2 165.7 L319.5 166.2 L319.8 166.0 L320.1 171.4 L320.4 170.7 L320.8 175.0 L321.1 173.4 L321.4 178.4 L321.7 176.3 L322.0 178.8 L322.4 178.4 L322.7 181.9 L323.1 179.7 L323.4 182.9 L323.8 179.8 L324.1 182.5 L324.5 181.2 L324.9 183.0 L325.2 180.5 L325.6 182.0 L325.9 178.3 L326.3 181.0 L326.6 178.2 L327.0 178.8 L327.4 176.0 L327.7 178.9 L328.1 174.5 L328.4 177.5 L328.8 174.7 L329.1 177.4 L329.5 175.0 L329.9 177.5 L330.2 174.4 L330.6 178.0 L330.9 174.3 L331.3 177.7 L331.6 174.8 L332.0 176.2 L332.4 175.3 L332.7 178.9 L333.1 175.1 L333.4 178.4 L333.8 175.3 L334.1 179.1 L334.5 177.5 L334.9 178.9 L335.2 175.4 L335.6 179.3 L335.9 175.4 L336.3 179.1 L336.6 176.4 L337.0 177.5 L337.3 175.7 L337.7 178.1 L338.0 174.4 L338.3 177.8 L338.7 175.4 L339.0 177.8 L339.3 176.0 L339.7 179.6 L340.0 177.5 L340.4 178.6 L340.7 175.5 L341.1 179.2 L341.4 175.5 L341.8 177.8 L342.1 175.1 L342.5 175.0 L342.9 174.0 L343.2 176.3 L343.6 173.5 L343.9 177.7 L344.3 172.3 L344.6 175.3 L345.0 173.8 L345.3 174.6 L345.7 171.7 L346.0 174.2 L346.4 171.5 L346.7 173.2 L347.0 169.9 L347.4 170.0 L347.7 164.9 L348.0 164.2 L348.3 157.4 L348.6 157.0 L348.9 151.1 L349.3 148.9 L349.6 142.2 L349.9 142.0 L350.2 135.1 L350.5 132.1 L350.8 131.5 L351.2 135.3 L351.5 133.1 L351.8 136.9 L352.1 136.3 L352.4 139.6 L352.7 138.3 L353.1 142.6 L353.4 139.0 L353.7 141.6 L354.0 142.6 L354.4 146.7 L354.7 146.3 L355.1 150.4 L355.4 149.5 L355.8 153.2 L356.1 153.6 L356.4 157.5 L356.7 156.4 L357.1 161.0 L357.4 160.5 L357.7 163.0 L358.0 161.2 L358.3 165.2 L358.6 162.9 L358.9 164.7 L359.3 162.7 L359.6 164.7 L360.0 161.6 L360.4 161.0 L360.7 155.6 L361.1 155.3 L361.4 155.8 L361.8 160.8 L362.1 162.6 L362.5 163.8 L362.8 162.8 L363.2 164.7 L363.5 163.8 L363.9 165.3 L364.2 160.7 L364.6 161.5 L364.9 157.5 L365.3 158.4 L365.6 155.7 L365.9 156.7 L366.2 150.7 L366.5 151.1 L366.9 143.4 L367.4 139.5 L367.7 141.8 L368.1 147.0 L368.4 147.9 L368.8 151.6 L369.1 149.4 L369.5 152.1 L369.8 152.7 L370.2 156.2 L370.5 152.6 L370.9 156.3 L371.2 154.6 L371.6 155.3 L371.9 155.7 L372.3 158.3 L372.6 155.9 L373.0 158.0 L373.3 153.3 L373.7 157.4 L374.0 156.1 L374.4 160.5 L374.7 158.9 L375.1 164.3 L375.4 161.8 L375.8 163.7 L376.1 160.4 L376.4 162.4 L376.7 156.3 L377.1 158.4 L377.4 152.5 L377.7 154.8 L378.1 151.5 L378.4 152.1 L378.7 151.5 L379.1 153.8 L379.4 152.4 L379.7 156.4 L380.0 156.3 L380.4 157.7 L380.7 154.4 L381.1 158.0 L381.4 156.0 L381.8 158.5 L382.1 158.4 L382.5 159.4 L382.8 156.2 L383.2 160.9 L383.5 156.4 L383.9 163.0 L384.2 160.5 L384.6 164.7 L384.9 164.1 L385.3 167.3 L385.6 164.6 L386.0 167.4 L386.3 166.8 L386.6 166.5 L386.9 162.2 L387.3 164.0 L387.6 160.5 L387.9 160.5 L388.2 158.5 L388.5 163.1 L388.8 158.3 L389.2 160.1 L389.5 158.4 L389.8 160.4 L390.2 157.1 L390.5 159.8 L390.9 157.4 L391.2 158.7 L391.6 157.4 L391.9 160.6 L392.3 157.0 L392.6 161.6 L393.0 157.8 L393.3 160.6 L393.7 155.1 L394.0 159.1 L394.4 157.4 L394.7 156.3 L395.1 157.4 L395.4 160.5 L395.7 158.4 L396.1 162.0 L396.4 158.4 L396.7 160.8 L397.0 158.5 L397.4 158.4 L397.7 157.5 L398.0 162.0 L398.4 158.3 L398.7 160.4 L399.0 156.6 L399.3 161.0 L399.7 157.2 L400.0 158.4 L400.4 157.4 L400.7 160.6 L401.1 158.0 L401.4 160.1 L401.8 157.4 L402.1 160.2 L402.5 158.8 L402.9 160.8 L403.2 156.0 L403.6 159.2 L403.9 154.3 L404.3 157.3 L404.6 154.3 L405.0 155.0 L405.3 150.8 L405.6 151.1 L405.9 145.0 L406.2 143.8 L406.6 143.3 L406.9 147.0 L407.2 144.4 L407.5 147.5 L407.9 144.8 L408.2 149.4 L408.6 146.1 L408.9 151.2 L409.3 149.4 L409.6 153.6 L410.0 152.5 L410.4 154.5 L410.7 151.5 L411.1 154.4 L411.4 153.3 L411.8 155.6 L412.1 155.0 L412.5 155.0 L412.9 153.4 L413.2 155.5 L413.6 152.4 L413.9 153.2 L414.3 150.4 L414.6 152.3 L415.0 150.0 L415.4 150.5 L415.7 147.0 L416.1 150.8 L416.4 148.2 L416.8 150.3 L417.1 146.7 L417.5 147.5 L417.9 146.6 L418.2 149.3 L418.6 145.2 L418.9 148.4 L419.3 145.2 L419.6 147.8 L420.0 145.0 L420.4 146.7 L420.7 144.0 L421.1 146.8 L421.4 143.4 L421.8 145.3 L422.1 142.3 L422.5 143.8 L422.9 141.2 L423.2 145.0 L423.6 142.0 L423.9 145.8 L424.3 143.4 L424.6 147.9 L425.0 147.5 L425.4 149.7 L425.7 148.3 L426.1 151.2 L426.4 149.8 L426.8 154.8 L427.1 153.2 L427.5 155.0 L427.9 153.0 L428.2 158.2 L428.6 156.3 L428.9 160.0 L429.3 155.9 L429.6 161.5 L430.0 161.2 L430.4 161.8 L430.7 158.7 L431.1 160.8 L431.4 157.5 L431.8 160.0 L432.1 156.9 L432.5 157.5 L432.8 157.5 L433.2 162.5 L433.5 162.5 L433.8 176.3 L434.2 186.4 L434.5 200.0 L434.9 200.2 L435.2 203.7 L435.6 201.3 L435.9 205.0 L436.3 202.7 L436.6 206.1 L437.0 205.0 L437.4 208.1 L437.7 204.5 L438.1 208.5 L438.4 205.4 L438.8 207.4 L439.1 205.4 L439.5 207.5 L439.9 206.2 L440.2 210.0 L440.6 207.5 L440.9 211.5 L441.3 209.9 L441.6 212.9 L442.0 212.5 L442.4 215.1 L442.7 214.3 L443.1 218.0 L443.4 218.0 L443.8 222.6 L444.1 221.0 L444.5 222.5 L444.8 222.8 L445.1 228.5 L445.4 226.9 L445.8 230.0 L446.1 226.1 L446.4 226.3 L446.7 220.8 L447.0 220.0 L447.4 218.4 L447.7 220.1 L448.1 214.8 L448.4 217.1 L448.8 213.0 L449.1 215.8 L449.5 212.5 L449.9 213.6 L450.2 209.7 L450.6 211.9 L450.9 205.7 L451.3 209.6 L451.6 205.8 L452.0 205.0 L452.4 203.0 L452.7 205.5 L453.1 201.1 L453.4 204.0 L453.8 199.8 L454.1 202.3 L454.5 200.0 L454.9 201.5 L455.2 198.6 L455.6 201.2 L455.9 198.1 L456.3 200.8 L456.6 198.0 L457.0 198.8 L457.4 198.3 L457.7 202.5 L458.1 197.5 L458.4 203.4 L458.8 201.3 L459.1 204.4 L459.5 202.5 L459.9 204.0 L460.2 201.5 L460.6 204.1 L460.9 200.1 L461.3 202.4 L461.6 199.5 L462.0 200.0 L462.4 199.8 L462.7 201.7 L463.1 198.6 L463.4 200.6 L463.8 197.1 L464.1 199.7 L464.5 197.5 L464.9 200.9 L465.2 197.7 L465.6 201.6 L465.9 198.3 L466.3 200.7 L466.6 197.7 L467.0 200.0 L467.4 198.0 L467.7 202.3 L468.1 199.0 L468.4 203.0 L468.8 199.7 L469.1 203.0 L469.5 202.5 L469.9 204.5 L470.2 202.1 L470.6 206.9 L470.9 204.1 L471.3 207.4 L471.6 205.6 L472.0 207.5 L472.4 206.3 L472.7 207.9 L473.1 202.4 L473.4 207.2 L473.8 204.6 L474.1 208.2 L474.5 205.0 L474.9 208.2 L475.2 206.6 L475.6 210.1 L475.9 207.9 L476.3 210.5 L476.6 209.0 L477.0 210.0 L477.4 208.7 L477.7 213.4 L478.1 210.2 L478.4 214.6 L478.8 212.9 L479.1 215.0 L479.5 212.5 L479.9 217.7 L480.2 213.6 L480.6 215.3 L480.9 212.0 L481.3 216.6 L481.6 213.9 L482.0 215.0 L482.4 214.1 L482.7 218.2 L483.1 216.4 L483.4 219.1 L483.8 216.2 L484.1 219.4 L484.5 217.5 L484.9 220.2 L485.2 218.4 L485.6 221.5 L485.9 218.8 L486.3 222.2 L486.6 219.5 L487.0 222.5 L487.4 220.7 L487.7 226.0 L488.1 221.8 L488.4 224.8 L488.8 222.3 L489.1 227.4 L489.5 225.0 L489.9 228.1 L490.2 224.2 L490.6 227.1 L490.9 223.4 L491.3 228.1 L491.6 225.9 L492.0 227.5 L492.4 225.9 L492.7 228.4 L493.1 226.7 L493.4 230.3 L493.8 227.3 L494.1 230.3 L494.5 230.0 L494.9 230.9 L495.2 228.6 L495.6 230.1 L495.9 228.2 L496.3 231.2 L496.6 228.3 L497.0 228.8 L497.4 227.5 L497.7 229.4 L498.1 226.8 L498.4 229.1 L498.8 226.4 L499.1 228.2 L499.5 226.2 L499.9 227.6 L500.2 225.2 L500.6 228.8 L500.9 225.5 L501.3 227.7 L501.6 224.4 L502.0 227.5 L502.4 225.8 L502.7 231.0 L503.1 226.3 L503.4 229.7 L503.8 228.0 L504.1 230.8 L504.5 230.0 L504.9 231.2 L505.2 225.4 L505.6 229.3 L505.9 226.9 L506.3 229.4 L506.6 226.0 L507.0 228.8 L507.4 227.4 L507.7 230.7 L508.1 228.9 L508.4 232.5 L508.8 229.5 L509.1 231.9 L509.5 231.2 L509.9 232.9 L510.2 231.3 L510.6 235.2 L510.9 233.4 L511.3 237.2 L511.6 235.7 L512.0 237.5 L512.4 235.8 L512.7 239.1 L513.1 235.5 L513.4 240.9 L513.8 238.2 L514.1 242.7 L514.5 242.5 L515.0 251.6 L515.3 250.5 L515.7 255.4 L516.0 253.8 L516.3 256.8 L516.6 255.9 L517.0 260.7 L517.3 259.5 L517.6 263.4 L518.0 258.1 L518.3 257.3 L518.6 251.9 L518.9 252.9 L519.3 246.9 L519.6 249.4 L519.9 245.5 L520.3 246.3 L520.6 243.7 L520.9 245.6 L521.2 242.7 L521.6 243.7 L521.9 240.9 L522.2 242.8 L522.6 240.3 L522.9 242.4 L523.2 240.7 L523.6 244.3 L523.9 241.8 L524.2 245.0 L524.5 242.2 L524.9 245.3 L525.2 243.2 L525.5 246.3 L525.9 242.3 L526.2 245.0 L526.5 241.7 L526.8 242.4 L527.2 240.2 L527.5 241.3 L527.8 238.2 L528.2 239.7 L528.5 237.8 L528.8 239.9 L529.1 237.3 L529.5 240.3 L529.8 237.5 L530.1 240.0 L530.5 237.2 L530.8 238.4 L531.1 237.4 L531.4 238.7 L531.8 235.9 L532.1 238.6 L532.4 236.3 L532.8 238.4 L533.1 235.2 L533.4 237.1 L533.8 235.9 L534.1 238.8 L534.4 235.4 L534.7 237.4 L535.1 234.2 L535.4 239.3 L535.7 235.2 L536.1 237.1 L536.4 236.8 L536.7 238.9 L537.0 236.1 L537.4 237.1 L537.7 234.4 L538.0 237.9 L538.4 234.7 L538.7 235.8 L539.0 234.8 L539.3 240.0 L539.7 234.7 L540.0 236.9 L540.3 233.7 L540.7 236.4 L541.0 232.6 L541.3 234.5 L541.6 232.7 L542.0 236.7 L542.3 234.9 L542.6 237.2 L543.0 233.8 L543.3 235.5 L543.6 232.8 L543.9 234.5 L544.3 233.0 L544.6 237.7 L544.9 232.6 L545.3 235.8 L545.6 233.1 L545.9 235.4 L546.2 232.7 L546.6 233.2 L546.9 232.1 L547.2 234.7 L547.6 230.6 L547.9 230.5 L548.2 229.2 L548.6 230.8 L548.9 226.8 L549.2 227.9 L549.5 224.2 L549.9 226.3 L550.2 223.3 L550.5 223.9 L550.9 223.8 L551.2 228.5 L551.5 228.6 L551.8 230.5 L552.2 230.1 L552.5 233.5 L552.8 231.2 L553.2 233.2 L553.5 231.2 L553.8 234.1 L554.1 231.5 L554.5 231.8 L554.8 230.0 L555.1 231.7 L555.5 228.5 L555.8 232.2 L556.1 228.7 L556.4 230.9 L556.8 227.9 L557.1 230.5 L557.4 226.9 L557.8 229.8 L558.1 228.3 L558.4 230.8 L558.8 226.4 L559.1 230.0 L559.4 227.3 L559.7 229.2 L560.1 227.6 L560.4 231.3 L560.7 228.8 L561.1 232.8 L561.4 229.0 L561.7 232.2 L562.0 229.5 L562.4 231.8 L562.7 229.5 L563.0 233.1 L563.4 230.8 L563.7 232.6 L564.0 229.5 L564.3 231.8 L564.7 228.3 L565.0 229.2 L565.3 226.5 L565.7 228.8 L566.0 226.5 L566.3 228.6 L566.6 225.1 L567.0 228.3 L567.3 224.5 L567.6 226.6 L568.0 223.9 L568.3 227.4 L568.6 224.4 L568.9 226.9 L569.3 224.7 L569.6 226.8 L569.9 223.2 L570.3 225.3 L570.6 223.7 L570.9 225.5 L571.2 223.1 L571.6 226.3 L571.9 222.9 L572.2 225.7 L572.6 223.3 L572.9 223.9 L573.2 224.0 L573.6 227.2 L573.9 223.8 L574.3 225.9 L574.6 222.0 L575.0 225.3 L575.4 221.9 L575.7 223.9 L576.1 220.2 L576.4 221.7 L576.8 218.8 L577.1 220.2 L577.5 217.5 L577.8 218.3 L578.1 214.7 L578.4 218.0 L578.8 215.0 L579.1 212.3 L579.4 206.2 L579.7 203.8 L580.0 197.5 L580.4 197.9 L580.7 194.2 L581.1 194.7 L581.4 190.9 L581.8 191.2 L582.1 186.8 L582.5 187.5 L582.8 183.7 L583.1 185.3 L583.4 181.1 L583.8 180.0 L584.1 179.4 L584.4 186.4 L584.7 183.9 L585.0 190.0 L585.4 188.4 L585.7 190.5 L586.1 187.6 L586.4 190.8 L586.8 186.0 L587.1 192.5 L587.5 187.5 L587.8 187.2 L588.1 179.3 L588.4 182.9 L588.8 178.8 L589.1 182.5 L589.4 180.8 L589.7 186.0 L590.0 185.0 L590.4 188.1 L590.7 186.0 L591.1 189.4 L591.4 185.6 L591.8 188.7 L592.1 185.5 L592.5 190.0 L592.9 187.9 L593.2 191.2 L593.6 189.9 L593.9 194.0 L594.3 190.4 L594.6 194.4 L595.0 195.0 L595.4 195.6 L595.7 194.0 L596.1 197.4 L596.4 195.9 L596.8 199.0 L597.1 197.2 L597.5 200.0 L597.9 199.3 L598.2 201.6 L598.6 199.5 L598.9 202.2 L599.3 200.5 L599.6 203.1 L600.0 202.5 L600.4 203.1 L600.7 199.3 L601.1 201.7 L601.4 198.7 L601.8 200.4 L602.1 197.0 L602.5 197.5 L602.9 195.7 L603.2 196.5 L603.6 191.9 L603.9 193.1 L604.3 188.6 L604.6 190.1 L605.0 187.5 L605.3 188.3 L605.6 185.7 L605.9 187.6 L606.2 186.2 L606.6 189.1 L606.9 186.7 L607.2 190.2 L607.5 192.5 L607.9 195.3 L608.2 192.7 L608.6 199.5 L608.9 196.6 L609.3 201.5 L609.6 199.4 L610.0 202.5 L610.4 198.7 L610.7 200.7 L611.1 197.4 L611.4 199.6 L611.8 195.6 L612.1 198.0 L612.5 195.0 L612.9 197.0 L613.2 192.9 L613.6 193.2 L613.9 189.5 L614.3 191.4 L614.6 188.2 L615.0 187.5 L615.4 185.1 L615.7 187.0 L616.1 182.1 L616.4 184.0 L616.8 179.9 L617.1 181.4 L617.5 178.8 L617.9 182.1 L618.2 179.2 L618.6 183.6 L618.9 181.3 L619.3 186.0 L619.6 183.3 L620.0 185.0 L620.4 184.9 L620.7 187.9 L621.1 185.6 L621.4 188.8 L621.8 186.5 L622.1 191.2 L622.5 187.5 L622.9 191.4 L623.2 189.4 L623.6 193.9 L623.9 190.7 L624.3 194.7 L624.6 193.6 L625.0 195.0 L625.3 193.8 L625.7 197.0 L626.0 192.3 L626.3 199.6 L626.6 195.9 L627.0 199.3 L627.3 197.3 L627.6 198.9 L628.0 196.8 L628.3 199.6 L628.6 197.2 L628.9 198.9 L629.3 196.3 L629.6 198.9 L629.9 195.4 L630.3 196.3 L630.6 196.3 L630.9 199.6 L631.2 196.9 L631.6 200.2 L631.9 197.7 L632.2 200.9 L632.6 197.3 L632.9 198.9 L633.2 197.4 L633.6 201.9 L633.9 198.8 L634.2 202.1 L634.5 199.1 L634.9 201.9 L635.2 198.3 L635.5 201.6 L635.9 199.6 L636.2 202.1 L636.5 200.3 L636.8 202.8 L637.2 199.8 L637.5 202.5 L637.8 200.1 L638.2 202.9 L638.5 200.3 L638.8 201.8 L639.1 198.9 L639.5 201.9 L639.8 199.3 L640.1 202.1 L640.5 200.4 L640.8 201.6 L641.1 199.7 L641.4 201.1 L641.8 198.2 L642.1 200.1 L642.4 199.7 L642.8 200.7 L643.1 199.7 L643.4 200.3 L643.8 199.7 L644.1 202.6 L644.4 201.7 L644.7 207.2 L645.1 205.1 L645.4 208.5 L645.7 206.5 L646.1 209.5 L646.4 209.6 L646.7 211.7 L647.0 210.1 L647.4 212.1 L647.7 209.4 L648.0 211.9 L648.4 206.6 L648.7 206.8 L649.0 205.8 L649.3 208.3 L649.7 202.5 L650.0 206.5 L650.3 202.9 L650.7 206.6 L651.0 202.9 L651.3 204.2 L651.6 202.9 L652.0 205.4 L652.3 201.3 L652.6 202.7 L653.0 198.3 L653.3 201.8 L653.6 198.3 L653.9 198.9 L654.3 199.0 L654.6 203.4 L654.9 200.9 L655.3 204.2 L655.6 202.5 L655.9 204.7 L656.2 203.2 L656.6 205.3 L656.9 202.2 L657.2 205.9 L657.6 203.1 L657.9 205.5 L658.2 205.0 L658.6 207.7 L658.9 205.7 L659.2 208.3 L659.5 204.6 L659.9 208.9 L660.2 204.1 L660.5 206.8 L660.9 205.3 L661.2 208.5 L661.5 205.3 L661.8 209.6 L662.2 205.3 L662.5 209.9 L662.8 207.6 L663.2 209.5 L663.5 207.6 L663.8 212.2 L664.1 209.4 L664.5 212.2 L664.8 210.2 L665.1 212.5 L665.5 210.7 L665.8 212.1 L666.1 209.9 L666.4 213.1 L666.8 210.9 L667.1 212.3 L667.4 209.0 L667.8 211.8 L668.1 208.8 L668.4 209.5 L668.8 208.2 L669.1 210.6 L669.4 208.0 L669.7 211.7 L670.1 208.6 L670.4 212.2 L670.7 207.3 L671.1 209.5 L671.4 207.0 L671.7 209.9 L672.0 207.1 L672.4 211.1 L672.7 207.5 L673.0 210.4 L673.4 206.5 L673.7 208.2 L674.0 206.0 L674.4 209.7 L674.8 206.9 L675.1 209.2 L675.5 206.5 L675.8 209.5 L676.2 207.0 L676.6 210.7 L676.9 207.1 L677.3 209.6 L677.6 209.5 L678.0 209.6 L678.3 207.1 L678.6 210.9 L678.9 208.6 L679.3 211.7 L679.6 207.9 L679.9 210.3 L680.3 209.5 L680.6 210.7 L680.9 208.0 L681.2 211.0 L681.6 207.7 L681.9 209.6 L682.2 206.6 L682.6 210.1 L682.9 208.2 L683.2 209.3 L683.6 205.7 L683.9 209.5 L684.3 205.6 L684.6 208.9 L685.0 206.8" stroke="#D95319" stroke-width="1.9"/>
<path d="M62.0 143.8 L62.4 144.5 L62.7 143.2 L63.0 145.5 L63.4 143.3 L63.8 144.9 L64.1 143.7 L64.5 145.0 L64.8 143.1 L65.2 144.7 L65.5 145.0 L65.9 147.4 L66.2 144.1 L66.6 145.6 L66.9 143.6 L67.3 145.8 L67.6 144.7 L68.0 146.3 L68.4 145.0 L68.7 147.4 L69.1 145.8 L69.4 146.7 L69.8 145.0 L70.1 147.4 L70.5 146.2 L70.9 147.5 L71.2 145.4 L71.6 147.4 L71.9 145.4 L72.3 146.0 L72.6 144.2 L73.0 145.7 L73.4 143.6 L73.7 145.5 L74.1 143.6 L74.4 145.2 L74.8 144.2 L75.1 145.6 L75.5 145.0 L75.8 146.4 L76.2 144.2 L76.5 146.2 L76.9 144.6 L77.2 145.9 L77.5 143.0 L77.9 147.1 L78.2 143.6 L78.6 145.3 L78.9 143.3 L79.2 143.8 L79.6 142.1 L80.0 143.9 L80.3 141.3 L80.7 142.9 L81.0 140.2 L81.4 141.1 L81.8 140.0 L82.1 141.7 L82.4 142.1 L82.7 144.2 L83.0 145.0 L83.4 146.3 L83.7 144.3 L84.1 146.4 L84.4 145.5 L84.8 147.5 L85.1 145.3 L85.5 146.2 L85.9 145.8 L86.2 147.7 L86.6 145.8 L86.9 147.4 L87.3 145.6 L87.6 147.5 L88.0 145.4 L88.4 147.4 L88.7 146.1 L89.1 148.2 L89.4 145.6 L89.8 148.1 L90.1 145.9 L90.5 147.5 L90.9 146.9 L91.2 149.3 L91.6 146.7 L91.9 149.1 L92.3 147.4 L92.6 148.6 L93.0 146.8 L93.4 148.7 L93.7 146.8 L94.1 148.8 L94.4 147.3 L94.8 149.9 L95.1 147.2 L95.5 148.8 L95.9 147.2 L96.2 148.5 L96.6 147.5 L96.9 149.3 L97.3 148.1 L97.6 149.7 L98.0 147.2 L98.4 148.6 L98.7 146.5 L99.1 147.8 L99.4 145.4 L99.8 146.8 L100.1 145.7 L100.5 147.5 L100.9 145.9 L101.2 148.1 L101.6 146.2 L101.9 148.5 L102.3 147.0 L102.6 148.7 L103.0 147.7 L103.4 149.5 L103.7 148.5 L104.1 150.0 L104.4 148.6 L104.8 150.8 L105.1 149.1 L105.5 150.0 L105.9 149.1 L106.2 151.0 L106.6 149.1 L106.9 150.9 L107.3 149.2 L107.6 151.0 L108.0 148.8 L108.4 151.6 L108.7 149.8 L109.1 151.3 L109.4 149.0 L109.8 151.4 L110.1 150.0 L110.5 151.2 L110.9 150.4 L111.2 152.7 L111.6 150.4 L111.9 152.2 L112.3 150.5 L112.6 152.4 L113.0 150.5 L113.4 151.8 L113.7 150.5 L114.1 152.3 L114.4 150.2 L114.8 152.2 L115.1 150.3 L115.5 151.2 L115.9 151.1 L116.2 152.5 L116.6 150.4 L116.9 152.2 L117.3 150.7 L117.6 152.6 L118.0 150.8 L118.4 152.6 L118.7 151.3 L119.1 153.1 L119.4 151.7 L119.8 153.7 L120.1 151.3 L120.5 152.5 L120.9 152.1 L121.2 155.6 L121.6 152.6 L121.9 154.0 L122.3 152.3 L122.6 154.6 L123.0 153.8 L123.4 154.5 L123.7 152.6 L124.1 153.5 L124.4 150.8 L124.8 153.1 L125.1 151.8 L125.5 152.5 L125.9 151.3 L126.2 153.6 L126.6 151.9 L126.9 154.0 L127.3 152.6 L127.6 154.8 L128.0 153.2 L128.4 155.7 L128.7 153.0 L129.1 155.6 L129.4 155.0 L129.8 156.7 L130.1 155.1 L130.5 156.2 L130.9 155.9 L131.2 157.6 L131.6 155.4 L131.9 157.3 L132.3 155.9 L132.6 157.5 L133.0 155.6 L133.4 157.7 L133.7 156.2 L134.1 157.7 L134.4 156.6 L134.8 158.2 L135.1 156.6 L135.5 157.5 L135.9 156.9 L136.2 158.3 L136.6 156.8 L136.9 158.6 L137.3 157.0 L137.6 159.2 L138.0 157.4 L138.4 158.9 L138.7 157.3 L139.1 159.8 L139.4 157.7 L139.8 158.9 L140.1 157.2 L140.5 158.8 L140.9 156.7 L141.2 158.7 L141.6 156.3 L141.9 158.2 L142.3 156.3 L142.6 157.0 L143.0 156.2 L143.4 157.2 L143.7 154.9 L144.1 156.5 L144.4 155.4 L144.8 157.7 L145.1 156.1 L145.5 157.5 L145.9 157.1 L146.2 158.3 L146.6 156.2 L146.9 158.0 L147.3 155.6 L147.6 158.0 L148.0 156.2 L148.4 156.8 L148.7 154.6 L149.1 155.1 L149.4 152.1 L149.8 153.6 L150.1 151.0 L150.5 150.0 L150.9 150.6 L151.2 154.0 L151.6 153.1 L151.9 155.3 L152.3 154.4 L152.6 157.3 L153.0 157.5 L153.4 159.2 L153.7 157.7 L154.1 159.7 L154.4 158.7 L154.8 160.8 L155.1 159.3 L155.5 160.0 L155.9 159.5 L156.2 161.6 L156.6 160.6 L157.0 162.5 L157.3 161.0 L157.7 162.4 L158.0 161.5 L158.4 162.9 L158.8 161.2 L159.1 163.1 L159.5 162.5 L159.9 163.1 L160.2 160.8 L160.6 161.5 L160.9 159.4 L161.3 160.4 L161.6 157.8 L162.0 157.5 L162.4 156.9 L162.7 156.9 L163.1 154.5 L163.4 155.7 L163.8 153.5 L164.1 154.3 L164.5 152.5 L164.8 152.8 L165.2 149.6 L165.5 150.4 L165.8 148.7 L166.2 149.4 L166.5 147.5 L166.8 149.3 L167.2 148.1 L167.5 151.4 L167.8 150.0 L168.2 152.2 L168.5 151.1 L168.8 152.9 L169.2 152.5 L169.5 153.8 L169.9 153.1 L170.2 154.3 L170.6 152.2 L170.9 153.6 L171.3 151.5 L171.6 152.9 L172.0 151.2 L172.4 152.5 L172.7 150.8 L173.1 152.9 L173.4 152.1 L173.8 154.4 L174.1 152.6 L174.5 155.0 L174.9 153.5 L175.2 155.2 L175.6 153.2 L175.9 154.0 L176.3 151.8 L176.6 152.7 L177.0 152.5 L177.4 153.0 L177.7 151.7 L178.1 153.8 L178.4 152.9 L178.8 154.6 L179.1 152.9 L179.5 155.0 L179.9 154.0 L180.2 155.8 L180.6 154.8 L180.9 156.9 L181.3 155.3 L181.6 156.5 L182.0 156.2 L182.4 156.2 L182.7 154.5 L183.1 156.9 L183.4 155.6 L183.8 158.0 L184.1 156.7 L184.5 157.5 L184.9 157.1 L185.2 158.9 L185.6 157.8 L185.9 159.9 L186.3 157.7 L186.6 160.1 L187.0 158.8 L187.4 160.1 L187.7 158.2 L188.1 159.9 L188.4 157.6 L188.8 159.1 L189.1 157.7 L189.5 158.8 L189.9 158.1 L190.2 160.2 L190.6 158.1 L190.9 160.3 L191.3 159.4 L191.6 161.1 L192.0 160.0 L192.4 162.0 L192.7 160.8 L193.1 162.5 L193.4 160.3 L193.8 162.6 L194.1 160.6 L194.5 161.2 L194.9 160.7 L195.2 162.3 L195.6 161.0 L195.9 162.5 L196.3 161.1 L196.6 162.7 L197.0 162.5 L197.4 163.4 L197.7 161.5 L198.1 163.8 L198.4 161.9 L198.8 163.8 L199.1 162.0 L199.5 163.4 L199.9 161.8 L200.2 163.5 L200.6 161.6 L200.9 163.6 L201.3 162.6 L201.6 164.2 L202.0 163.8 L202.4 164.8 L202.7 163.5 L203.1 165.5 L203.4 163.8 L203.8 165.2 L204.1 163.0 L204.5 165.4 L204.9 164.2 L205.2 166.0 L205.6 164.3 L205.9 166.4 L206.3 164.2 L206.6 166.3 L207.0 166.2 L207.4 166.4 L207.7 165.5 L208.1 167.5 L208.4 165.7 L208.8 167.6 L209.1 166.3 L209.5 168.0 L209.9 166.4 L210.2 169.3 L210.6 168.0 L210.9 171.3 L211.3 168.0 L211.6 171.2 L212.0 170.0 L212.4 170.6 L212.7 169.4 L213.1 171.2 L213.4 169.9 L213.8 171.9 L214.1 170.3 L214.5 172.9 L214.9 170.7 L215.2 172.7 L215.6 170.3 L215.9 172.5 L216.3 171.2 L216.6 172.2 L217.0 172.5 L217.4 173.1 L217.7 171.6 L218.1 173.3 L218.4 172.1 L218.8 173.6 L219.1 172.7 L219.5 173.8 L219.9 171.7 L220.2 173.6 L220.6 172.2 L220.9 174.8 L221.3 172.9 L221.6 175.3 L222.0 175.0 L222.4 175.4 L222.7 174.3 L223.1 175.7 L223.4 174.2 L223.8 175.6 L224.1 174.7 L224.5 176.8 L224.9 175.0 L225.2 176.6 L225.6 175.3 L225.9 177.0 L226.3 174.9 L226.6 176.4 L227.0 176.2 L227.4 177.3 L227.7 175.3 L228.1 177.3 L228.4 176.0 L228.8 177.9 L229.1 176.0 L229.5 177.2 L229.9 176.1 L230.2 178.6 L230.6 176.5 L230.9 178.3 L231.3 177.0 L231.6 178.9 L232.0 177.5 L232.4 178.7 L232.7 176.0 L233.1 177.7 L233.4 175.6 L233.8 177.0 L234.1 176.0 L234.5 177.5 L234.9 175.8 L235.2 177.6 L235.6 175.0 L235.9 176.8 L236.3 175.3 L236.6 176.1 L237.0 175.0 L237.4 176.1 L237.7 174.1 L238.1 175.2 L238.4 173.3 L238.8 175.1 L239.1 173.3 L239.5 174.7 L239.9 172.8 L240.2 174.2 L240.6 171.7 L240.9 174.1 L241.3 171.5 L241.6 173.6 L242.0 172.5 L242.4 174.1 L242.7 172.3 L243.1 173.9 L243.4 172.7 L243.8 175.1 L244.1 173.4 L244.5 175.1 L244.9 172.9 L245.2 176.0 L245.6 173.9 L245.9 175.6 L246.3 173.5 L246.6 176.3 L247.0 176.2 L247.4 177.2 L247.7 175.1 L248.1 177.3 L248.4 175.8 L248.8 177.2 L249.1 174.7 L249.5 177.4 L249.9 175.4 L250.2 177.2 L250.6 175.2 L250.9 177.0 L251.3 175.0 L251.6 176.1 L252.0 177.5 L252.4 176.9 L252.7 176.2 L253.1 177.8 L253.4 177.0 L253.8 178.6 L254.1 177.5 L254.5 179.7 L254.9 178.4 L255.2 181.2 L255.6 179.6 L255.9 180.7 L256.3 179.4 L256.6 182.0 L257.0 180.0 L257.4 181.2 L257.7 179.9 L258.1 181.9 L258.4 180.7 L258.8 182.7 L259.1 181.2 L259.5 182.5 L259.9 180.3 L260.2 183.5 L260.6 181.8 L260.9 183.1 L261.3 181.3 L261.6 184.0 L262.0 182.5 L262.4 183.2 L262.7 180.6 L263.1 181.9 L263.4 180.2 L263.8 180.9 L264.1 179.1 L264.5 181.8 L264.9 179.5 L265.2 180.8 L265.6 178.9 L265.9 180.6 L266.3 177.6 L266.6 178.8 L267.0 177.5 L267.4 177.5 L267.7 176.3 L268.1 176.8 L268.4 175.4 L268.8 177.1 L269.1 175.1 L269.5 177.5 L269.9 176.1 L270.2 177.3 L270.6 175.4 L270.9 177.3 L271.3 174.6 L271.6 177.9 L272.0 175.0 L272.4 176.4 L272.7 173.7 L273.1 176.1 L273.4 174.5 L273.8 177.1 L274.1 175.5 L274.5 176.8 L274.9 175.9 L275.2 177.0 L275.6 174.7 L275.9 178.1 L276.3 176.0 L276.6 177.2 L277.0 177.5 L277.4 177.7 L277.7 175.1 L278.1 177.1 L278.4 175.9 L278.8 177.4 L279.1 175.2 L279.5 176.7 L279.9 175.5 L280.2 176.9 L280.6 174.7 L280.9 176.4 L281.3 174.5 L281.6 175.3 L282.0 175.0 L282.4 175.2 L282.7 173.2 L283.1 174.3 L283.4 171.4 L283.8 173.1 L284.1 170.8 L284.5 172.5 L284.9 171.7 L285.2 173.9 L285.6 172.3 L285.9 174.1 L286.3 172.6 L286.6 175.2 L287.0 175.0 L287.4 176.1 L287.7 174.9 L288.1 176.8 L288.4 174.8 L288.8 176.7 L289.1 175.3 L289.5 177.0 L289.9 175.1 L290.2 177.3 L290.6 176.1 L290.9 178.1 L291.3 176.9 L291.6 178.4 L292.0 177.5 L292.4 177.8 L292.7 174.8 L293.1 178.1 L293.4 176.6 L293.8 178.8 L294.1 177.3 L294.5 178.6 L294.9 177.3 L295.2 179.3 L295.6 177.7 L295.9 179.4 L296.3 178.0 L296.6 180.5 L297.0 178.8 L297.3 180.1 L297.7 178.0 L298.0 180.3 L298.4 178.2 L298.7 180.0 L299.0 178.7 L299.4 180.6 L299.7 178.9 L300.1 180.7 L300.4 178.9 L300.8 178.8 L301.1 175.5 L301.5 175.1 L301.9 170.8 L302.2 168.8 L302.8 207.5 L303.2 232.0 L303.8 195.0 L304.1 193.9 L304.5 190.0 L304.9 191.8 L305.2 190.4 L305.6 192.1 L305.9 191.0 L306.3 193.1 L306.6 191.6 L307.0 192.5 L307.4 190.9 L307.7 192.2 L308.1 190.0 L308.4 191.3 L308.8 188.8 L309.1 190.7 L309.5 188.8 L309.9 192.0 L310.2 190.0 L310.6 191.8 L310.9 190.3 L311.3 192.1 L311.6 191.2 L312.0 192.5 L312.4 190.4 L312.7 191.8 L313.1 189.7 L313.4 190.9 L313.8 187.9 L314.1 188.2 L314.5 187.5 L314.9 189.1 L315.2 188.0 L315.6 190.1 L315.9 189.6 L316.3 191.9 L316.6 191.0 L317.0 192.5 L317.4 191.0 L317.7 193.0 L318.1 191.4 L318.4 192.2 L318.8 190.8 L319.1 192.3 L319.5 191.2 L319.9 192.1 L320.2 189.7 L320.6 191.2 L320.9 189.0 L321.3 190.0 L321.6 188.1 L322.0 188.8 L322.4 187.1 L322.7 188.6 L323.1 186.8 L323.4 187.7 L323.8 185.2 L324.1 186.4 L324.5 185.0 L324.9 186.5 L325.2 184.6 L325.6 186.8 L325.9 186.2 L326.3 188.3 L326.6 186.5 L327.0 187.5 L327.4 185.9 L327.7 187.7 L328.1 185.9 L328.4 186.8 L328.8 185.0 L329.1 185.9 L329.5 185.0 L329.9 185.7 L330.2 184.0 L330.6 186.1 L330.9 183.9 L331.3 186.3 L331.6 184.8 L332.0 186.2 L332.4 186.2 L332.7 187.0 L333.1 185.9 L333.4 187.5 L333.8 186.1 L334.1 188.5 L334.5 187.5 L334.9 189.6 L335.2 185.4 L335.6 187.6 L335.9 185.0 L336.3 186.8 L336.6 184.2 L337.0 185.0 L337.4 184.5 L337.7 185.8 L338.1 183.9 L338.4 185.9 L338.8 184.5 L339.1 185.4 L339.5 184.8 L339.9 185.7 L340.2 184.2 L340.6 185.8 L340.9 183.7 L341.3 185.5 L341.6 183.8 L342.0 185.0 L342.3 183.8 L342.7 185.3 L343.0 182.9 L343.4 184.0 L343.7 182.0 L344.0 183.8 L344.4 182.4 L344.7 184.0 L345.1 181.8 L345.4 183.3 L345.8 182.5 L346.1 184.5 L346.4 183.2 L346.8 185.0 L347.1 183.8 L347.5 185.7 L347.8 183.7 L348.1 185.2 L348.5 184.2 L348.8 185.9 L349.2 184.6 L349.5 186.2 L349.9 184.9 L350.2 186.5 L350.6 185.4 L350.9 187.5 L351.3 185.7 L351.6 188.4 L352.0 185.9 L352.4 189.3 L352.7 188.1 L353.1 190.3 L353.4 188.5 L353.8 190.2 L354.1 188.5 L354.5 190.0 L354.9 189.1 L355.2 190.9 L355.6 189.5 L355.9 191.6 L356.3 189.8 L356.6 191.7 L357.0 190.2 L357.4 191.6 L357.7 190.1 L358.1 192.0 L358.4 189.7 L358.8 191.1 L359.1 189.7 L359.5 191.2 L359.9 190.2 L360.2 191.7 L360.6 189.4 L360.9 191.0 L361.3 189.6 L361.6 191.7 L362.0 190.7 L362.4 192.6 L362.7 190.7 L363.1 192.1 L363.4 190.7 L363.8 192.6 L364.1 190.9 L364.5 191.2 L364.9 191.2 L365.2 193.2 L365.6 191.9 L365.9 193.4 L366.3 191.9 L366.6 193.6 L367.0 191.2 L367.4 193.2 L367.7 191.7 L368.1 193.0 L368.4 191.0 L368.8 193.7 L369.1 191.1 L369.5 192.5 L369.9 191.2 L370.2 192.9 L370.6 192.0 L370.9 193.4 L371.3 191.4 L371.6 193.0 L372.0 191.7 L372.4 193.4 L372.7 192.2 L373.1 193.8 L373.4 192.7 L373.8 194.7 L374.1 192.6 L374.5 193.8 L374.9 192.7 L375.2 195.7 L375.6 193.6 L375.9 196.2 L376.3 195.0 L376.6 196.1 L377.0 194.3 L377.4 196.9 L377.7 194.7 L378.1 195.7 L378.4 194.6 L378.8 196.4 L379.1 195.3 L379.5 196.2 L379.9 195.6 L380.2 197.1 L380.6 195.6 L380.9 196.8 L381.3 195.6 L381.6 197.7 L382.0 196.9 L382.4 198.0 L382.7 196.2 L383.1 197.7 L383.4 195.2 L383.8 196.7 L384.1 195.1 L384.5 196.2 L384.9 195.4 L385.2 196.4 L385.6 194.5 L385.9 196.7 L386.3 194.0 L386.6 196.5 L387.0 195.4 L387.4 196.4 L387.7 193.5 L388.1 196.1 L388.4 194.3 L388.8 195.3 L389.1 193.4 L389.5 193.8 L389.9 194.0 L390.2 196.5 L390.6 194.1 L390.9 196.0 L391.3 194.8 L391.6 196.9 L392.0 195.4 L392.4 196.8 L392.7 195.1 L393.1 196.9 L393.4 196.0 L393.8 197.5 L394.1 196.8 L394.5 197.5 L394.9 196.9 L395.2 198.9 L395.6 197.3 L395.9 198.9 L396.3 197.6 L396.6 198.5 L397.0 196.4 L397.4 199.1 L397.7 197.7 L398.1 199.7 L398.4 197.5 L398.8 199.2 L399.1 197.4 L399.5 198.8 L399.9 197.3 L400.2 199.1 L400.6 197.1 L400.9 199.2 L401.3 197.0 L401.6 199.2 L402.0 197.5 L402.4 198.8 L402.7 196.8 L403.1 199.3 L403.4 197.3 L403.8 199.3 L404.1 196.8 L404.5 198.8 L404.9 197.0 L405.2 199.3 L405.6 196.5 L405.9 198.6 L406.3 195.5 L406.6 197.0 L407.0 196.2 L407.4 196.6 L407.7 195.3 L408.1 197.0 L408.4 195.7 L408.8 197.7 L409.1 195.4 L409.5 197.0 L409.9 195.3 L410.2 197.3 L410.6 195.3 L410.9 197.2 L411.3 195.1 L411.6 197.0 L412.0 196.2 L412.4 197.1 L412.7 195.0 L413.1 196.7 L413.4 194.7 L413.8 196.3 L414.1 194.5 L414.5 196.2 L414.9 194.0 L415.2 195.9 L415.6 194.6 L415.9 196.4 L416.3 194.3 L416.6 195.5 L417.0 193.8 L417.4 195.0 L417.7 192.6 L418.1 194.1 L418.4 192.4 L418.8 193.9 L419.1 192.9 L419.5 193.3 L419.9 191.1 L420.2 193.2 L420.6 190.7 L420.9 192.6 L421.3 190.4 L421.6 192.7 L422.0 191.2 L422.4 192.5 L422.7 190.5 L423.1 192.6 L423.4 191.3 L423.8 192.6 L424.1 191.4 L424.5 192.5 L424.9 193.1 L425.2 195.1 L425.6 194.4 L425.9 198.1 L426.3 197.7 L426.6 200.5 L427.0 200.0 L427.4 207.1 L427.8 211.2 L428.1 206.4 L428.5 200.0 L428.8 200.8 L429.2 199.0 L429.5 198.8 L429.9 198.3 L430.2 200.3 L430.6 198.5 L430.9 200.0 L431.3 198.1 L431.6 200.3 L432.0 200.0 L432.3 201.1 L432.6 200.1 L432.9 202.6 L433.2 202.5 L433.6 225.6 L434.0 247.5 L434.4 241.9 L434.8 235.0 L435.1 232.1 L435.4 226.9 L435.8 225.0 L435.9 214.5 L436.2 213.5 L436.5 210.1 L436.8 210.8 L437.2 207.8 L437.5 206.6 L437.8 206.8 L438.1 209.2 L438.4 208.4 L438.7 209.9 L439.1 208.2 L439.4 210.9 L439.7 211.8 L440.0 215.1 L440.3 214.1 L440.6 216.1 L441.0 216.8 L441.3 220.0 L441.6 219.7 L441.9 223.0 L442.2 222.4 L442.5 224.7 L442.8 223.9 L443.2 227.0 L443.5 226.0 L443.8 227.1 L444.1 227.5 L444.4 229.3 L444.7 228.1 L445.1 230.1 L445.4 229.5 L445.7 229.1 L446.0 226.3 L446.3 225.8 L446.6 223.3 L447.0 222.4 L447.3 219.9 L447.6 220.2 L447.9 216.7 L448.2 217.3 L448.5 214.5 L448.9 213.5 L449.2 210.7 L449.5 210.9 L449.8 207.5 L450.1 206.6 L450.5 206.0 L450.8 207.3 L451.2 205.1 L451.5 207.0 L451.9 204.7 L452.2 206.2 L452.6 204.2 L452.9 205.1 L453.3 205.0 L453.6 205.4 L454.0 204.0 L454.3 205.9 L454.7 204.5 L455.0 205.6 L455.4 204.0 L455.7 205.3 L456.1 203.4 L456.4 203.4 L456.8 202.7 L457.1 204.2 L457.5 203.5 L457.8 205.7 L458.2 204.3 L458.5 206.4 L458.9 204.5 L459.2 206.9 L459.6 205.0 L459.9 206.4 L460.3 205.0 L460.6 206.7 L461.0 205.2 L461.4 206.6 L461.7 205.3 L462.1 207.4 L462.4 205.3 L462.8 206.6 L463.1 205.8 L463.4 206.7 L463.8 204.8 L464.1 206.2 L464.4 204.3 L464.8 206.2 L465.1 204.2 L465.5 206.0 L465.8 204.1 L466.1 206.4 L466.5 203.8 L466.8 204.7 L467.2 203.0 L467.5 203.4 L467.8 202.1 L468.2 204.0 L468.5 202.5 L468.8 204.1 L469.2 202.1 L469.5 203.8 L469.9 202.7 L470.2 204.9 L470.6 203.5 L470.9 206.3 L471.3 204.9 L471.6 207.8 L472.0 206.2 L472.4 208.7 L472.7 207.1 L473.1 210.5 L473.4 209.6 L473.8 212.0 L474.1 211.1 L474.5 212.5 L474.9 213.5 L475.2 216.3 L475.6 216.1 L475.9 219.1 L476.3 218.9 L476.6 222.3 L477.0 222.5 L477.4 224.2 L477.7 222.7 L478.1 224.8 L478.4 223.6 L478.8 224.9 L479.1 223.1 L479.5 225.0 L479.9 224.0 L480.2 225.2 L480.6 223.3 L480.9 224.3 L481.3 221.9 L481.6 223.2 L482.0 222.5 L482.4 223.4 L482.7 222.3 L483.1 224.7 L483.4 224.0 L483.8 226.7 L484.1 226.0 L484.5 227.5 L484.9 226.6 L485.2 228.8 L485.6 227.5 L485.9 229.7 L486.3 228.9 L486.6 230.3 L487.0 230.0 L487.4 230.1 L487.7 228.2 L488.1 229.1 L488.4 226.7 L488.8 228.6 L489.1 226.2 L489.5 226.2 L489.9 225.5 L490.2 227.6 L490.6 226.2 L490.9 228.1 L491.3 226.6 L491.6 229.0 L492.0 227.5 L492.4 228.9 L492.7 227.6 L493.1 228.2 L493.4 226.9 L493.8 228.2 L494.1 226.1 L494.5 227.5 L494.9 227.4 L495.2 229.6 L495.6 228.7 L495.9 229.9 L496.3 228.4 L496.6 230.8 L497.0 230.0 L497.4 231.8 L497.7 229.7 L498.1 231.6 L498.4 230.2 L498.8 232.5 L499.1 230.8 L499.5 232.5 L499.9 231.2 L500.2 233.1 L500.6 232.0 L500.9 234.3 L501.3 232.0 L501.6 233.1 L502.0 232.5 L502.4 233.6 L502.7 231.5 L503.1 232.6 L503.4 230.8 L503.8 233.2 L504.1 230.1 L504.5 230.0 L504.9 230.1 L505.2 231.4 L505.6 229.7 L505.9 231.4 L506.3 230.1 L506.6 232.5 L507.0 231.2 L507.4 232.5 L507.7 230.5 L508.1 232.2 L508.4 229.7 L508.8 231.1 L509.1 228.9 L509.5 230.0 L509.9 229.4 L510.2 231.8 L510.6 230.2 L510.9 232.1 L511.3 231.0 L511.6 233.1 L512.0 232.5 L512.4 234.0 L512.7 233.4 L513.1 235.0 L513.4 233.7 L513.8 235.8 L514.1 234.0 L514.5 235.0 L515.0 234.5 L515.3 235.1 L515.7 234.0 L516.0 235.0 L516.3 233.2 L516.6 235.8 L517.0 235.4 L517.3 238.5 L517.6 239.7 L518.0 240.3 L518.3 237.8 L518.6 239.1 L518.9 238.4 L519.3 238.4 L519.6 236.7 L519.9 238.6 L520.3 237.1 L520.6 239.1 L520.9 237.0 L521.2 239.1 L521.6 238.4 L521.9 240.6 L522.2 239.3 L522.6 240.8 L522.9 239.7 L523.2 242.1 L523.6 240.0 L523.9 241.6 L524.2 241.1 L524.5 242.3 L524.9 240.2 L525.2 240.6 L525.5 239.7 L525.9 240.4 L526.2 238.8 L526.5 239.6 L526.8 238.4 L527.2 239.6 L527.5 238.6 L527.8 240.0 L528.2 239.7 L528.5 240.7 L528.8 239.2 L529.1 241.0 L529.5 239.5 L529.8 241.2 L530.1 240.7 L530.5 242.7 L530.8 241.7 L531.1 243.2 L531.4 241.0 L531.8 243.2 L532.1 241.5 L532.4 243.6 L532.8 242.0 L533.1 244.3 L533.4 243.0 L533.8 244.9 L534.1 242.7 L534.4 244.3 L534.7 242.7 L535.1 244.0 L535.4 242.0 L535.7 244.0 L536.1 243.0 L536.4 243.6 L536.7 241.7 L537.0 242.9 L537.4 241.7 L537.7 243.3 L538.0 241.5 L538.4 243.1 L538.7 241.1 L539.0 241.9 L539.3 238.9 L539.7 238.6 L540.0 237.1 L540.3 238.0 L540.7 235.5 L541.0 236.6 L541.3 235.8 L541.6 235.4 L542.0 233.2 L542.3 234.6 L542.6 234.5 L543.0 235.5 L543.3 233.5 L543.6 235.3 L543.9 233.2 L544.3 234.8 L544.6 233.5 L544.9 235.9 L545.3 234.5 L545.6 236.5 L545.9 235.1 L546.2 236.8 L546.6 235.8 L546.9 237.2 L547.2 235.8 L547.6 237.9 L547.9 237.1 L548.2 238.1 L548.6 236.6 L548.9 237.6 L549.2 236.4 L549.5 238.0 L549.9 236.0 L550.2 237.5 L550.5 235.4 L550.9 237.4 L551.2 235.2 L551.5 237.1 L551.8 235.8 L552.2 236.6 L552.5 234.8 L552.8 236.8 L553.2 235.4 L553.5 237.6 L553.8 235.7 L554.1 238.0 L554.5 237.1 L554.8 237.7 L555.1 236.4 L555.5 238.5 L555.8 236.7 L556.1 238.3 L556.4 236.6 L556.8 238.0 L557.1 237.8 L557.4 238.4 L557.8 236.9 L558.1 238.6 L558.4 237.2 L558.8 239.0 L559.1 236.6 L559.4 238.9 L559.7 238.4 L560.1 239.2 L560.4 237.2 L560.7 238.6 L561.1 236.8 L561.4 238.0 L561.7 236.5 L562.0 238.3 L562.4 237.1 L562.7 238.2 L563.0 237.3 L563.4 238.8 L563.7 236.7 L564.0 238.1 L564.3 236.6 L564.7 238.2 L565.0 237.1 L565.3 239.0 L565.7 237.4 L566.0 239.1 L566.3 237.4 L566.6 239.5 L567.0 237.4 L567.3 239.5 L567.6 237.8 L568.0 239.4 L568.3 238.6 L568.6 240.5 L568.9 239.0 L569.3 240.2 L569.6 238.9 L569.9 240.8 L570.3 238.4 L570.6 240.7 L570.9 239.0 L571.2 240.1 L571.6 238.5 L571.9 240.6 L572.2 238.8 L572.6 240.8 L572.9 239.7 L573.2 240.9 L573.6 238.8 L573.9 240.3 L574.3 238.6 L574.6 240.2 L575.0 239.1 L575.4 239.7 L575.7 237.9 L576.1 239.3 L576.4 236.9 L576.8 238.2 L577.1 236.4 L577.5 236.2 L577.9 235.3 L578.2 236.9 L578.6 235.0 L578.9 235.6 L579.3 233.5 L579.6 234.3 L580.0 233.8 L580.4 234.3 L580.7 232.5 L581.1 235.5 L581.4 234.0 L581.8 236.0 L582.1 234.5 L582.5 235.0 L582.9 234.6 L583.2 236.8 L583.6 234.4 L583.9 237.0 L584.3 235.4 L584.6 237.2 L585.0 236.2 L585.4 237.7 L585.7 235.8 L586.1 237.9 L586.4 235.7 L586.8 238.2 L587.1 236.0 L587.5 237.5 L587.9 236.9 L588.2 238.8 L588.6 237.4 L588.9 239.9 L589.3 238.1 L589.6 240.2 L590.0 238.8 L590.4 239.5 L590.7 237.1 L591.1 239.1 L591.4 236.9 L591.8 238.4 L592.1 236.9 L592.5 237.5 L592.9 237.7 L593.2 239.4 L593.6 237.6 L593.9 239.3 L594.3 237.3 L594.6 239.4 L595.0 238.8 L595.4 240.0 L595.7 238.5 L596.1 240.4 L596.4 239.0 L596.8 241.5 L597.1 239.7 L597.5 240.0 L597.9 240.5 L598.2 241.3 L598.6 239.3 L598.9 241.4 L599.3 239.1 L599.6 241.0 L600.0 238.8 L600.4 239.7 L600.7 238.0 L601.1 239.8 L601.4 238.0 L601.8 239.8 L602.1 236.8 L602.5 237.5 L602.9 236.8 L603.2 237.7 L603.6 235.7 L603.9 237.5 L604.3 235.5 L604.6 237.2 L605.0 236.2 L605.4 236.6 L605.7 234.6 L606.1 235.4 L606.4 233.4 L606.8 234.8 L607.1 233.2 L607.5 235.0 L607.9 233.5 L608.2 235.3 L608.6 234.1 L608.9 236.5 L609.3 234.9 L609.6 237.0 L610.0 236.2 L610.4 237.6 L610.7 235.9 L611.1 239.2 L611.4 235.8 L611.8 237.7 L612.1 236.3 L612.5 237.5 L612.9 236.3 L613.2 238.4 L613.6 235.3 L613.9 236.7 L614.3 235.3 L614.6 236.1 L615.0 236.2 L615.4 237.2 L615.7 235.6 L616.1 237.2 L616.4 236.1 L616.8 239.3 L617.1 237.1 L617.5 237.5 L617.9 236.6 L618.2 238.7 L618.6 236.8 L618.9 238.3 L619.3 236.0 L619.6 237.5 L620.0 236.2 L620.4 238.2 L620.7 236.6 L621.1 237.9 L621.4 235.7 L621.8 237.1 L622.1 234.9 L622.5 235.0 L622.9 234.0 L623.2 235.8 L623.6 233.9 L623.9 236.0 L624.3 234.1 L624.6 234.7 L625.0 233.8 L625.4 233.7 L625.7 232.4 L626.1 233.9 L626.4 231.6 L626.8 233.2 L627.1 231.1 L627.5 232.5 L627.9 230.8 L628.2 232.8 L628.6 231.4 L628.9 232.8 L629.3 230.9 L629.6 232.7 L630.0 232.5 L630.4 233.5 L630.7 231.4 L631.1 232.4 L631.4 230.4 L631.8 232.0 L632.1 230.4 L632.5 231.2 L632.9 229.0 L633.2 230.9 L633.6 229.2 L633.9 230.9 L634.3 229.8 L634.6 231.0 L635.0 230.0 L635.4 230.3 L635.7 227.6 L636.1 230.3 L636.4 227.3 L636.8 228.7 L637.1 226.4 L637.5 227.5 L637.9 226.0 L638.2 226.9 L638.6 225.4 L638.9 225.6 L639.3 224.3 L639.6 224.8 L640.0 223.8 L640.4 224.4 L640.7 223.8 L641.1 225.5 L641.4 224.0 L641.8 227.1 L642.1 225.7 L642.5 226.2 L642.9 226.8 L643.2 228.8 L643.6 228.1 L643.9 230.1 L644.3 228.2 L644.6 230.4 L645.0 230.0 L645.4 232.2 L645.7 229.6 L646.1 231.4 L646.4 229.4 L646.8 231.7 L647.1 230.3 L647.5 231.2 L647.9 230.6 L648.2 232.2 L648.6 230.7 L648.9 232.7 L649.3 231.7 L649.6 233.8 L650.0 232.5 L650.4 233.3 L650.7 231.6 L651.1 233.7 L651.4 231.7 L651.8 233.1 L652.1 231.7 L652.5 232.9 L652.9 231.3 L653.2 232.9 L653.6 231.5 L653.9 233.7 L654.3 231.8 L654.6 233.5 L655.0 232.5 L655.4 233.7 L655.7 231.9 L656.1 233.8 L656.4 230.9 L656.8 232.1 L657.1 231.0 L657.5 233.5 L657.9 231.3 L658.2 232.8 L658.6 230.9 L658.9 232.9 L659.3 230.9 L659.6 233.4 L660.0 231.2 L660.4 233.5 L660.7 230.8 L661.1 233.2 L661.4 230.8 L661.8 232.6 L662.1 230.5 L662.5 232.3 L662.9 230.3 L663.2 231.9 L663.6 229.6 L663.9 231.3 L664.3 229.3 L664.6 231.1 L665.0 230.0 L665.4 231.5 L665.7 229.8 L666.1 231.7 L666.4 229.9 L666.8 231.4 L667.1 229.8 L667.5 231.8 L667.9 230.4 L668.2 232.2 L668.6 230.9 L668.9 232.3 L669.3 231.4 L669.6 232.5 L670.0 231.2 L670.4 231.8 L670.7 230.3 L671.1 232.3 L671.4 230.4 L671.8 233.0 L672.1 230.6 L672.5 232.1 L672.9 230.3 L673.2 231.9 L673.6 230.1 L673.9 231.6 L674.3 229.8 L674.6 231.5 L675.0 230.0 L675.4 231.3 L675.7 229.0 L676.1 231.3 L676.4 229.3 L676.8 230.6 L677.1 228.8 L677.5 230.3 L677.9 227.8 L678.2 230.2 L678.6 228.0 L678.9 229.6 L679.3 228.5 L679.6 229.5 L680.0 228.8 L680.4 229.3 L680.7 227.4 L681.1 228.8 L681.4 227.9 L681.8 229.6 L682.1 227.6 L682.5 229.5 L682.9 227.1 L683.2 229.3 L683.6 226.2 L683.9 228.5 L684.3 226.3 L684.6 228.1 L685.0 227.5" stroke="#EDB120" stroke-width="1.9"/>
<path d="M62.0 117.5 L62.3 125.6 L62.7 124.7 L63.0 132.5 L63.3 133.3 L63.6 140.9 L63.9 140.4 L64.2 147.5 L64.6 144.6 L64.9 150.2 L65.2 147.5 L65.5 152.5 L65.9 147.2 L66.2 151.8 L66.6 146.6 L66.9 153.6 L67.3 146.0 L67.6 152.9 L68.0 150.0 L68.4 153.1 L68.7 150.7 L69.1 154.3 L69.4 150.7 L69.8 154.3 L70.1 152.0 L70.5 153.8 L70.9 151.7 L71.2 154.3 L71.6 149.2 L71.9 153.4 L72.3 146.1 L72.6 151.4 L73.0 145.0 L73.3 142.6 L73.6 132.6 L73.9 132.0 L74.2 122.5 L74.6 129.9 L74.9 123.8 L75.2 130.6 L75.5 130.0 L75.8 126.6 L76.1 120.1 L76.4 121.4 L76.8 117.5 L77.1 116.6 L77.4 111.9 L77.7 114.2 L78.0 112.5 L78.3 115.2 L78.6 112.6 L78.9 117.7 L79.2 120.0 L79.6 120.4 L79.9 113.5 L80.2 117.1 L80.5 111.2 L80.9 115.9 L81.2 110.5 L81.6 115.4 L81.9 108.1 L82.3 112.1 L82.6 107.5 L83.0 110.0 L83.4 108.3 L83.7 110.2 L84.1 106.6 L84.4 111.9 L84.8 105.1 L85.1 109.9 L85.5 107.5 L85.8 110.1 L86.1 103.2 L86.4 105.9 L86.8 103.8 L87.1 107.7 L87.4 105.3 L87.7 113.1 L88.0 112.5 L88.4 113.1 L88.7 107.0 L89.1 113.1 L89.4 109.4 L89.8 111.9 L90.1 109.4 L90.5 110.0 L90.9 111.3 L91.2 115.9 L91.6 112.4 L91.9 119.9 L92.3 114.4 L92.6 117.6 L93.0 115.0 L93.4 119.4 L93.7 115.7 L94.1 119.8 L94.4 114.8 L94.8 119.8 L95.1 113.7 L95.5 117.5 L95.9 114.2 L96.2 121.1 L96.6 115.3 L96.9 122.8 L97.3 120.5 L97.6 124.8 L98.0 125.0 L98.4 127.4 L98.7 122.1 L99.1 133.1 L99.4 125.2 L99.8 132.1 L100.1 127.9 L100.5 130.0 L100.9 128.1 L101.2 134.1 L101.6 131.0 L101.9 134.3 L102.3 127.5 L102.6 138.5 L103.0 135.0 L103.4 137.6 L103.7 134.2 L104.1 138.0 L104.4 132.7 L104.8 140.6 L105.1 135.8 L105.5 140.0 L105.9 136.4 L106.2 140.6 L106.6 136.4 L106.9 138.0 L107.3 136.9 L107.6 137.8 L108.0 137.5 L108.4 140.4 L108.7 136.9 L109.1 139.2 L109.4 134.7 L109.8 143.3 L110.1 138.5 L110.5 142.5 L110.9 141.5 L111.2 147.6 L111.6 141.7 L111.9 149.0 L112.3 144.4 L112.6 150.5 L113.0 147.5 L113.4 151.5 L113.7 146.7 L114.1 152.2 L114.4 146.2 L114.8 152.2 L115.1 147.1 L115.5 150.0 L115.9 146.5 L116.2 151.3 L116.6 145.9 L116.9 153.1 L117.3 146.4 L117.6 152.8 L118.0 152.5 L118.4 153.1 L118.7 148.1 L119.1 152.4 L119.4 150.0 L119.8 158.1 L120.1 148.6 L120.5 147.5 L120.9 148.3 L121.2 155.4 L121.6 149.0 L121.9 154.7 L122.3 151.9 L122.6 156.3 L123.0 157.5 L123.4 158.1 L123.7 152.8 L124.1 158.1 L124.4 152.0 L124.8 155.2 L125.1 145.4 L125.5 150.0 L125.9 144.1 L126.2 148.9 L126.6 142.1 L126.9 148.3 L127.3 142.0 L127.6 147.7 L128.0 147.5 L128.4 151.1 L128.7 144.0 L129.1 147.9 L129.4 143.3 L129.8 146.7 L130.1 140.0 L130.5 140.0 L130.8 136.8 L131.1 136.8 L131.4 130.7 L131.8 130.0 L132.1 131.2 L132.4 141.2 L132.7 138.6 L133.0 145.0 L133.4 143.1 L133.7 146.9 L134.1 143.6 L134.4 150.6 L134.8 145.7 L135.1 150.6 L135.5 150.0 L135.9 150.6 L136.2 145.1 L136.6 150.1 L136.9 146.9 L137.3 148.6 L137.6 146.9 L138.0 147.5 L138.4 146.9 L138.7 149.8 L139.1 146.9 L139.4 153.3 L139.8 151.3 L140.1 155.6 L140.5 155.0 L140.9 155.6 L141.2 149.8 L141.6 152.8 L141.9 147.0 L142.3 152.8 L142.6 146.6 L143.0 150.0 L143.4 144.3 L143.7 146.2 L144.1 138.8 L144.4 140.9 L144.8 137.0 L145.1 139.7 L145.5 137.5 L145.9 137.6 L146.2 131.3 L146.6 131.8 L146.9 124.3 L147.3 129.5 L147.6 119.4 L148.0 120.0 L148.4 114.5 L148.7 117.0 L149.1 110.0 L149.4 114.0 L149.8 107.5 L150.1 112.9 L150.5 107.5 L150.9 107.3 L151.2 101.6 L151.6 107.6 L151.9 102.8 L152.3 108.6 L152.6 101.9 L153.0 102.5 L153.3 101.9 L153.7 105.7 L154.1 102.4 L154.4 111.0 L154.8 105.5 L155.1 110.6 L155.4 104.0 L155.8 110.0 L156.2 105.5 L156.5 111.7 L156.8 109.3 L157.2 114.1 L157.6 112.3 L157.9 118.4 L158.2 115.0 L158.6 118.6 L159.0 114.4 L159.3 118.0 L159.7 115.6 L160.0 122.3 L160.4 118.1 L160.8 122.5 L161.1 123.4 L161.5 127.9 L161.8 125.2 L162.2 131.2 L162.5 127.4 L162.9 133.2 L163.2 127.5 L163.6 133.3 L164.0 123.4 L164.3 133.6 L164.7 126.1 L165.0 129.3 L165.4 127.5 L165.8 128.8 L166.1 126.9 L166.5 129.3 L166.8 119.9 L167.2 127.9 L167.5 121.9 L167.9 124.1 L168.2 122.5 L168.6 126.7 L169.0 121.9 L169.3 125.4 L169.7 120.8 L170.0 126.3 L170.4 123.6 L170.8 125.0 L171.1 127.2 L171.5 133.4 L171.8 126.8 L172.2 132.6 L172.5 127.7 L172.9 134.1 L173.2 130.0 L173.6 138.1 L174.0 130.3 L174.3 136.7 L174.7 129.4 L175.0 135.1 L175.4 131.8 L175.8 132.5 L176.1 132.7 L176.5 139.2 L176.8 133.6 L177.2 139.0 L177.5 134.2 L177.9 138.5 L178.2 135.0 L178.6 138.5 L179.0 137.2 L179.3 143.6 L179.7 136.3 L180.0 141.9 L180.4 136.6 L180.8 140.0 L181.1 138.2 L181.5 141.3 L181.8 137.6 L182.2 143.0 L182.5 138.2 L182.9 144.1 L183.2 142.5 L183.6 145.7 L184.0 138.4 L184.3 146.4 L184.7 141.3 L185.0 146.4 L185.4 142.1 L185.8 147.5 L186.1 140.6 L186.5 147.7 L186.8 143.0 L187.2 147.6 L187.5 142.8 L187.9 148.0 L188.2 142.5 L188.6 143.9 L189.0 141.9 L189.3 145.2 L189.7 141.6 L190.0 144.6 L190.4 141.0 L190.8 143.8 L191.1 141.0 L191.5 145.2 L191.8 140.9 L192.2 145.9 L192.5 140.7 L192.9 143.0 L193.2 142.5 L193.6 145.2 L194.0 137.7 L194.3 141.6 L194.7 137.0 L195.0 141.6 L195.4 137.4 L195.8 141.2 L196.1 135.9 L196.5 140.1 L196.8 134.0 L197.2 139.2 L197.5 133.6 L197.9 139.1 L198.2 137.5 L198.6 139.3 L199.0 133.1 L199.3 138.6 L199.7 131.5 L200.0 135.1 L200.4 131.8 L200.8 132.5 L201.1 128.3 L201.5 134.7 L201.8 124.2 L202.2 127.0 L202.5 120.6 L202.9 124.5 L203.2 120.0 L203.6 123.7 L204.0 116.9 L204.3 122.0 L204.7 116.1 L205.0 120.1 L205.4 111.8 L205.8 110.0 L206.1 106.7 L206.5 107.3 L206.8 96.0 L207.2 101.8 L207.5 95.0 L207.9 98.6 L208.2 95.0 L208.6 96.0 L209.0 89.1 L209.3 92.6 L209.7 82.6 L210.0 87.5 L210.4 82.6 L210.8 82.5 L211.1 82.6 L211.5 87.7 L211.8 85.0 L212.2 89.9 L212.5 87.3 L212.9 94.0 L213.2 92.5 L213.6 97.8 L214.0 94.1 L214.3 101.5 L214.7 97.6 L215.0 106.2 L215.4 101.9 L215.8 102.5 L216.1 101.5 L216.5 109.4 L216.8 105.3 L217.2 112.8 L217.5 104.9 L217.9 111.1 L218.2 112.5 L218.6 114.1 L219.0 111.7 L219.3 115.9 L219.7 112.3 L220.0 117.6 L220.4 113.1 L220.8 118.8 L221.1 113.6 L221.5 121.0 L221.8 115.9 L222.2 122.2 L222.5 116.9 L222.9 121.6 L223.2 122.5 L223.6 124.8 L224.0 123.4 L224.3 132.9 L224.7 127.4 L225.0 133.4 L225.4 129.2 L225.8 132.5 L226.1 130.8 L226.4 140.6 L226.7 138.0 L227.0 140.0 L227.4 137.0 L227.7 139.5 L228.1 132.6 L228.4 136.3 L228.8 129.8 L229.1 132.3 L229.5 125.0 L229.9 131.4 L230.2 125.0 L230.6 129.5 L230.9 124.2 L231.3 128.1 L231.6 123.2 L232.0 127.5 L232.3 119.7 L232.6 124.0 L232.9 116.8 L233.2 117.5 L233.6 107.3 L234.0 109.9 L234.3 99.4 L234.7 100.0 L235.0 91.0 L235.4 89.4 L235.8 82.5 L236.1 88.5 L236.4 85.7 L236.7 91.9 L237.0 97.5 L237.3 96.6 L237.6 90.1 L237.9 94.0 L238.2 90.0 L238.6 91.7 L238.9 86.3 L239.2 86.7 L239.5 85.0 L239.8 84.5 L240.1 79.3 L240.4 82.8 L240.8 80.0 L241.1 81.2 L241.4 74.0 L241.8 80.7 L242.1 75.6 L242.4 75.6 L242.8 71.2 L243.1 74.8 L243.4 73.7 L243.8 79.7 L244.2 76.7 L244.5 82.5 L244.8 81.4 L245.1 87.7 L245.4 85.0 L245.8 90.0 L246.1 87.9 L246.4 95.4 L246.7 91.0 L247.0 95.0 L247.3 90.4 L247.6 95.0 L247.9 91.9 L248.2 92.5 L248.6 91.9 L248.9 100.4 L249.2 96.5 L249.5 100.0 L249.8 97.0 L250.1 105.9 L250.4 100.9 L250.8 105.0 L251.1 103.2 L251.4 108.8 L251.7 104.9 L252.0 110.0 L252.4 106.2 L252.7 113.6 L253.1 108.9 L253.4 113.6 L253.8 110.1 L254.1 114.9 L254.5 112.5 L254.9 114.6 L255.2 111.4 L255.6 116.6 L255.9 111.4 L256.3 117.7 L256.6 115.3 L257.0 116.2 L257.4 113.3 L257.7 118.2 L258.1 116.0 L258.4 119.7 L258.8 115.7 L259.1 121.3 L259.5 117.5 L259.9 123.5 L260.2 120.3 L260.6 124.7 L260.9 121.1 L261.3 123.9 L261.6 121.4 L262.0 125.0 L262.4 124.6 L262.7 133.0 L263.1 128.3 L263.4 134.8 L263.8 131.4 L264.1 138.1 L264.5 137.5 L264.9 136.3 L265.2 129.3 L265.6 131.7 L265.9 128.6 L266.3 131.5 L266.6 125.2 L267.0 127.5 L267.4 121.1 L267.7 123.3 L268.1 116.6 L268.4 120.9 L268.8 113.0 L269.1 117.1 L269.5 111.2 L269.9 114.5 L270.2 110.7 L270.6 117.0 L270.9 111.9 L271.3 121.3 L271.6 115.7 L272.0 117.5 L272.4 115.3 L272.7 122.4 L273.1 120.2 L273.4 126.5 L273.8 120.7 L274.1 127.4 L274.5 125.0 L274.9 129.5 L275.2 122.8 L275.6 127.9 L275.9 124.6 L276.3 128.1 L276.6 123.9 L277.0 127.5 L277.4 124.7 L277.7 127.9 L278.1 124.2 L278.4 125.8 L278.8 120.8 L279.1 124.8 L279.5 120.0 L279.8 122.2 L280.2 116.5 L280.5 121.3 L280.8 116.9 L281.2 119.9 L281.5 117.5 L281.9 121.0 L282.2 116.9 L282.6 124.7 L282.9 119.1 L283.2 125.0 L283.6 124.2 L284.0 130.5 L284.3 127.7 L284.7 133.2 L285.0 130.5 L285.4 135.6 L285.8 135.0 L286.1 135.6 L286.5 130.6 L286.8 135.3 L287.2 130.8 L287.5 134.2 L287.9 130.3 L288.2 132.5 L288.6 129.3 L289.0 135.6 L289.3 130.5 L289.7 136.8 L290.0 129.3 L290.4 136.4 L290.8 132.5 L291.1 136.1 L291.5 130.5 L291.8 141.7 L292.2 135.1 L292.5 138.0 L292.9 133.8 L293.2 140.0 L293.6 138.7 L294.0 144.3 L294.3 138.8 L294.7 143.6 L295.0 138.4 L295.4 144.0 L295.8 142.5 L296.1 145.7 L296.5 143.1 L296.8 146.8 L297.2 141.7 L297.5 145.6 L297.9 141.5 L298.2 145.0 L298.6 140.4 L299.0 145.6 L299.3 140.0 L299.7 142.3 L300.0 137.5 L300.4 141.3 L300.8 140.0 L301.1 140.3 L301.5 133.4 L301.8 138.0 L302.2 133.5 L302.5 139.7 L302.9 132.5 L303.2 135.0 L303.6 132.3 L304.0 137.1 L304.3 130.4 L304.7 135.0 L305.0 128.9 L305.4 132.1 L305.8 130.0 L306.1 132.5 L306.5 127.6 L306.8 131.6 L307.2 128.2 L307.5 131.5 L307.9 128.2 L308.2 128.8 L308.6 129.0 L309.0 136.8 L309.3 131.9 L309.7 137.8 L310.0 135.4 L310.4 142.1 L310.8 140.0 L311.1 145.3 L311.5 143.6 L311.8 148.9 L312.2 144.4 L312.5 148.3 L312.9 144.7 L313.2 146.2 L313.6 145.1 L314.0 151.6 L314.3 145.1 L314.7 151.6 L315.0 145.2 L315.4 150.3 L315.8 147.5 L316.1 148.6 L316.5 146.1 L316.8 150.0 L317.2 146.8 L317.5 150.8 L317.9 147.1 L318.2 150.0 L318.6 147.3 L319.0 151.9 L319.3 143.8 L319.7 150.0 L320.0 144.0 L320.4 153.8 L320.8 148.8 L321.1 150.0 L321.5 144.7 L321.8 148.1 L322.2 140.3 L322.5 147.8 L322.9 142.3 L323.2 145.0 L323.6 141.4 L324.0 149.0 L324.3 142.7 L324.7 148.3 L325.0 145.5 L325.4 149.2 L325.8 143.8 L326.1 147.5 L326.5 141.1 L326.8 146.3 L327.2 141.0 L327.5 145.9 L327.9 139.5 L328.2 141.2 L328.6 137.1 L329.0 141.3 L329.3 135.6 L329.7 139.5 L330.0 133.5 L330.4 137.1 L330.8 130.0 L331.1 132.4 L331.5 126.3 L331.8 129.2 L332.2 122.8 L332.5 126.9 L332.9 121.6 L333.2 122.5 L333.6 115.8 L334.0 121.3 L334.3 116.8 L334.7 118.7 L335.0 113.5 L335.4 116.8 L335.8 112.5 L336.1 117.9 L336.5 114.8 L336.8 120.9 L337.2 116.8 L337.5 122.4 L337.9 120.4 L338.2 122.5 L338.6 122.4 L338.9 128.6 L339.3 123.1 L339.6 125.6 L340.0 125.0 L340.4 125.6 L340.7 118.8 L341.1 125.5 L341.4 117.2 L341.8 119.2 L342.1 114.1 L342.5 117.5 L342.9 112.7 L343.2 114.4 L343.6 110.1 L343.9 115.9 L344.3 109.4 L344.6 111.3 L345.0 110.0 L345.4 112.3 L345.7 109.4 L346.1 118.1 L346.4 115.1 L346.8 118.7 L347.1 116.7 L347.5 120.0 L347.9 116.9 L348.2 123.7 L348.6 118.1 L348.9 124.6 L349.3 121.2 L349.6 126.5 L350.0 127.5 L350.4 128.7 L350.7 125.5 L351.1 131.1 L351.4 126.8 L351.8 132.7 L352.1 129.1 L352.5 132.5 L352.9 128.1 L353.2 137.5 L353.6 127.4 L353.9 133.3 L354.3 129.3 L354.6 134.8 L355.0 133.8 L355.4 136.1 L355.7 130.7 L356.1 136.6 L356.4 132.3 L356.8 137.0 L357.1 133.1 L357.5 136.2 L357.9 131.1 L358.2 135.8 L358.6 133.2 L358.9 139.2 L359.3 134.3 L359.6 142.0 L360.0 138.8 L360.4 141.9 L360.7 136.0 L361.1 140.9 L361.4 133.5 L361.8 140.4 L362.1 134.0 L362.5 136.2 L362.9 134.9 L363.2 140.0 L363.6 129.9 L363.9 137.7 L364.3 130.8 L364.6 134.4 L365.0 135.0 L365.4 134.6 L365.7 130.6 L366.1 135.9 L366.4 128.8 L366.8 132.5 L367.1 127.1 L367.5 130.0 L367.9 127.9 L368.2 131.9 L368.6 124.5 L368.9 129.9 L369.3 126.5 L369.6 130.5 L370.0 122.5 L370.4 125.9 L370.7 121.3 L371.1 125.5 L371.4 117.8 L371.8 120.8 L372.1 116.8 L372.5 115.0 L372.8 111.6 L373.2 114.8 L373.5 107.4 L373.8 110.9 L374.2 104.4 L374.5 105.0 L374.9 104.4 L375.2 108.6 L375.6 104.3 L375.9 112.0 L376.2 112.5 L376.6 112.1 L376.9 110.8 L377.2 119.3 L377.5 117.5 L377.9 119.9 L378.2 116.7 L378.6 125.3 L378.9 121.3 L379.3 127.9 L379.6 126.3 L380.0 127.5 L380.4 125.6 L380.7 130.8 L381.1 123.4 L381.4 130.6 L381.8 127.7 L382.1 133.4 L382.5 130.0 L382.9 133.4 L383.2 128.9 L383.6 135.0 L383.9 131.8 L384.3 135.6 L384.6 131.2 L385.0 135.0 L385.4 132.6 L385.7 135.6 L386.1 130.6 L386.4 136.7 L386.8 132.4 L387.1 136.2 L387.5 132.5 L387.9 134.7 L388.2 128.9 L388.6 133.5 L388.9 124.4 L389.3 129.2 L389.6 124.4 L390.0 125.0 L390.4 124.6 L390.7 129.6 L391.1 124.4 L391.4 127.3 L391.8 121.6 L392.1 128.1 L392.5 127.5 L392.9 128.1 L393.2 121.5 L393.6 128.1 L393.9 121.3 L394.3 123.6 L394.6 119.4 L395.0 120.0 L395.4 119.4 L395.7 127.0 L396.1 121.6 L396.4 127.7 L396.8 123.6 L397.1 130.4 L397.5 127.5 L397.9 130.9 L398.2 127.6 L398.6 133.8 L398.9 127.6 L399.3 134.4 L399.6 130.2 L400.0 132.5 L400.4 131.7 L400.7 134.7 L401.1 130.3 L401.4 136.7 L401.8 131.9 L402.1 137.4 L402.5 133.8 L402.9 134.7 L403.2 130.7 L403.6 134.8 L403.9 127.9 L404.3 132.7 L404.6 128.8 L405.0 132.5 L405.4 128.0 L405.7 132.5 L406.1 126.8 L406.4 131.4 L406.8 126.9 L407.1 129.9 L407.5 127.5 L407.9 127.6 L408.2 122.3 L408.6 125.8 L408.9 117.7 L409.3 123.3 L409.6 116.5 L410.0 120.0 L410.4 118.3 L410.7 123.2 L411.1 118.4 L411.4 123.4 L411.8 116.9 L412.1 123.4 L412.5 120.0 L412.9 120.5 L413.2 116.5 L413.6 120.2 L413.9 114.8 L414.3 120.8 L414.6 112.1 L415.0 117.5 L415.3 113.8 L415.7 116.9 L416.0 112.7 L416.3 117.3 L416.7 112.1 L417.0 117.0 L417.3 110.7 L417.6 112.1 L417.9 101.7 L418.2 102.0 L418.6 101.4 L418.9 106.8 L419.2 104.5 L419.5 112.0 L419.8 101.7 L420.1 100.0 L420.4 91.1 L420.8 92.0 L421.1 78.4 L421.5 72.0 L421.8 74.6 L422.2 86.9 L422.5 94.5 L422.8 90.8 L423.1 82.9 L423.4 79.9 L423.8 72.0 L424.1 66.5 L424.5 54.5 L424.8 47.3 L425.2 30.7 L425.5 25.8 L425.9 27.4 L426.2 42.0 L426.6 47.7 L427.0 59.5 L427.4 68.4 L427.8 84.5 L428.1 70.7 L428.5 67.0 L428.8 69.9 L429.2 79.3 L429.5 82.0 L429.9 78.7 L430.2 72.0 L430.6 73.3 L430.9 67.4 L431.2 70.4 L431.5 65.8 L432.0 84.5 L432.3 82.8 L432.7 88.6 L433.0 87.0 L433.5 117.0 L433.8 132.5 L433.8 130.0 L434.1 132.8 L434.4 141.0 L434.7 148.4 L435.0 149.0 L435.3 146.4 L435.7 146.6 L436.0 142.1 L436.3 146.7 L436.6 142.9 L436.9 149.9 L437.2 148.6 L437.5 157.6 L437.8 158.5 L438.1 164.8 L438.4 166.8 L438.8 170.9 L439.2 167.1 L439.5 173.6 L439.9 170.2 L440.3 170.5 L440.6 172.3 L441.0 178.0 L441.4 177.0 L441.7 182.7 L442.1 179.7 L442.5 187.1 L442.8 185.0 L443.2 191.5 L443.6 189.2 L443.9 192.6 L444.2 189.4 L444.6 192.8 L444.9 188.9 L445.2 190.6 L445.5 182.2 L445.8 181.6 L446.2 177.6 L446.5 181.9 L446.9 176.0 L447.3 180.2 L447.6 174.2 L448.0 175.5 L448.4 168.9 L448.7 178.2 L449.1 167.3 L449.5 166.8 L449.8 166.2 L450.2 170.8 L450.6 168.1 L450.9 175.8 L451.3 172.4 L451.7 176.7 L452.0 172.0 L452.4 174.8 L452.8 172.3 L453.1 174.2 L453.5 167.8 L453.9 170.6 L454.3 161.0 L454.6 164.0 L455.0 161.3 L455.4 163.8 L455.7 161.9 L456.1 169.1 L456.5 167.8 L456.8 170.5 L457.2 170.0 L457.6 174.8 L457.9 171.6 L458.3 174.8 L458.7 174.2 L459.0 174.8 L459.4 168.0 L459.8 171.1 L460.1 164.5 L460.5 166.8 L460.9 164.5 L461.3 167.5 L461.6 163.8 L462.0 161.3 L462.3 162.8 L462.6 169.9 L463.0 169.0 L463.3 172.4 L463.6 168.0 L464.0 174.0 L464.4 169.1 L464.8 171.9 L465.1 172.4 L465.5 171.7 L465.9 169.9 L466.2 179.3 L466.6 175.6 L467.0 179.7 L467.3 178.3 L467.7 188.4 L468.1 179.1 L468.4 184.4 L468.8 183.4 L469.2 185.1 L469.5 180.6 L469.9 185.9 L470.3 180.3 L470.6 185.2 L471.0 182.2 L471.4 188.0 L471.7 184.8 L472.1 189.5 L472.5 188.9 L472.9 190.2 L473.2 188.4 L473.6 193.8 L474.0 190.2 L474.3 196.3 L474.5 200.0 L474.9 204.2 L475.2 198.9 L475.6 204.3 L475.9 201.4 L476.3 204.1 L476.6 202.0 L477.0 205.0 L477.4 203.2 L477.7 206.9 L478.1 202.8 L478.4 207.2 L478.8 204.6 L479.1 212.2 L479.5 210.0 L479.9 211.0 L480.2 204.5 L480.6 211.0 L480.9 207.8 L481.3 213.2 L481.6 210.4 L482.0 212.5 L482.4 212.1 L482.7 215.3 L483.1 209.6 L483.4 217.7 L483.8 212.5 L484.1 217.5 L484.5 215.0 L484.9 219.3 L485.2 211.7 L485.6 220.5 L485.9 217.0 L486.3 222.7 L486.6 219.1 L487.0 220.0 L487.4 220.5 L487.7 224.0 L488.1 219.7 L488.4 225.7 L488.8 222.2 L489.1 228.5 L489.5 227.5 L489.9 231.4 L490.2 229.9 L490.6 234.8 L490.9 232.5 L491.3 237.9 L491.6 231.9 L492.0 235.0 L492.4 235.1 L492.7 242.6 L493.1 237.3 L493.4 240.5 L493.8 237.1 L494.1 242.9 L494.5 240.0 L494.9 242.5 L495.2 239.4 L495.6 243.1 L495.9 240.2 L496.3 245.4 L496.6 242.6 L497.0 242.5 L497.4 241.8 L497.7 245.9 L498.1 240.0 L498.4 246.7 L498.8 244.3 L499.1 248.2 L499.5 245.0 L500.0 247.6 L500.4 244.6 L500.7 249.6 L501.1 245.6 L501.4 251.5 L501.8 246.9 L502.2 251.2 L502.5 246.6 L502.9 251.7 L503.2 244.7 L503.6 251.3 L503.9 250.3 L504.3 252.3 L504.7 250.9 L505.0 254.7 L505.4 250.2 L505.7 256.2 L506.1 253.1 L506.5 259.0 L506.8 253.9 L507.2 259.4 L507.5 252.9 L507.9 252.9 L508.2 253.5 L508.6 259.0 L508.9 256.2 L509.2 259.9 L509.5 258.7 L509.9 260.8 L510.2 260.6 L510.5 267.7 L510.9 263.8 L511.2 268.7 L511.5 268.2 L511.8 277.9 L512.2 274.3 L512.5 278.2 L512.8 273.3 L513.2 273.9 L513.5 273.3 L513.8 277.8 L514.1 275.2 L514.5 279.2 L514.8 276.8 L515.1 280.5 L515.5 276.0 L515.8 276.6 L516.1 276.0 L516.4 285.2 L516.8 283.4 L517.1 288.4 L517.4 283.1 L517.8 286.3 L518.1 279.9 L518.4 277.9 L518.8 273.1 L519.1 273.0 L519.4 267.9 L519.7 264.7 L520.1 263.2 L520.4 265.5 L520.7 261.7 L521.1 264.4 L521.4 258.2 L521.7 258.2 L522.0 256.3 L522.4 260.4 L522.7 254.9 L523.0 260.4 L523.4 255.6 L523.7 258.5 L524.0 255.4 L524.3 255.5 L524.7 252.4 L525.0 253.0 L525.3 252.4 L525.7 253.7 L526.0 250.4 L526.3 252.9 L526.7 250.0 L527.0 255.5 L527.4 251.9 L527.8 255.1 L528.1 251.5 L528.5 253.2 L528.8 247.4 L529.2 250.8 L529.5 247.2 L529.9 249.9 L530.3 248.9 L530.5 242.6 L530.8 230.5 L531.1 235.2 L531.4 232.4 L531.8 234.5 L532.1 234.5 L532.4 236.3 L532.8 233.3 L533.1 236.5 L533.4 233.2 L533.8 237.0 L534.1 234.6 L534.4 239.0 L534.7 235.8 L535.1 238.0 L535.4 233.6 L535.7 236.7 L536.1 234.5 L536.4 233.8 L536.7 231.2 L537.0 232.4 L537.4 231.8 L537.7 230.6 L538.0 228.2 L538.4 228.0 L538.7 226.6 L539.0 224.6 L539.3 220.8 L539.7 224.7 L540.0 223.9 L540.3 224.6 L540.7 222.3 L541.0 225.2 L541.3 225.3 L541.6 225.5 L542.0 221.2 L542.3 223.9 L542.6 222.6 L543.0 223.5 L543.3 221.5 L543.6 225.9 L543.9 226.6 L544.3 228.8 L544.6 225.4 L544.9 228.2 L545.3 227.9 L545.6 232.5 L545.9 231.0 L546.2 237.7 L546.6 238.4 L546.9 239.0 L547.2 236.4 L547.6 236.0 L547.9 234.5 L548.2 236.7 L548.6 234.2 L548.9 238.7 L549.2 237.1 L549.5 239.7 L549.9 236.7 L550.2 240.4 L550.5 241.1 L550.9 242.2 L551.2 238.5 L551.5 242.2 L551.8 242.4 L552.2 242.6 L552.5 242.1 L552.8 245.1 L553.2 247.6 L553.5 245.7 L553.8 242.5 L554.1 243.4 L554.5 241.1 L554.8 240.8 L555.1 239.6 L555.5 242.8 L555.8 239.7 L556.1 242.0 L556.4 238.7 L556.8 242.9 L557.1 239.7 L557.4 241.2 L557.8 239.3 L558.1 242.7 L558.4 241.1 L558.8 243.8 L559.1 238.8 L559.4 243.8 L559.7 242.4 L560.1 243.8 L560.4 239.8 L560.7 242.7 L561.1 239.7 L561.4 241.0 L561.7 236.7 L562.0 238.2 L562.4 237.1 L562.7 237.3 L563.0 232.8 L563.4 234.8 L563.7 234.5 L564.0 233.9 L564.3 228.9 L564.7 230.7 L565.0 231.8 L565.3 230.0 L565.7 225.5 L566.0 227.6 L566.3 226.6 L566.6 227.1 L567.0 223.7 L567.3 226.0 L567.6 222.6 L568.0 225.0 L568.3 219.9 L568.6 222.2 L568.9 220.0 L569.2 223.1 L569.5 222.5 L569.8 223.1 L570.2 220.6 L570.5 221.7 L570.8 215.4 L571.2 216.5 L571.5 212.0 L571.8 211.6 L572.2 208.5 L572.5 206.2 L572.9 208.8 L573.2 212.3 L573.6 211.7 L573.9 214.9 L574.3 215.6 L574.6 218.9 L575.0 221.1 L575.3 221.7 L575.7 220.5 L576.0 221.7 L576.3 219.1 L576.6 221.3 L577.0 218.5 L577.3 220.5 L577.6 219.7 L578.0 219.8 L578.3 217.0 L578.6 219.2 L578.9 216.2 L579.3 218.3 L579.6 215.6 L579.9 216.6 L580.3 214.5 L580.6 213.9 L580.9 210.3 L581.2 212.9 L581.6 210.3 L581.9 212.6 L582.2 209.2 L582.6 213.8 L582.9 211.5 L583.2 215.8 L583.6 213.2 L583.9 219.2 L584.2 217.1 L584.5 221.2 L584.9 219.3 L585.2 224.3 L585.5 223.1 L585.9 228.3 L586.2 228.9 L586.5 228.7 L586.8 223.9 L587.2 227.0 L587.5 225.1 L587.8 227.4 L588.2 226.3 L588.5 227.3 L588.8 223.2 L589.1 226.2 L589.5 221.2 L589.8 224.7 L590.1 221.6 L590.5 224.8 L590.8 222.4 L591.1 223.3 L591.4 219.5 L591.8 220.9 L592.1 217.0 L592.4 220.0 L592.8 218.7 L593.1 220.1 L593.4 219.7 L593.8 220.9 L594.1 216.8 L594.4 219.4 L594.7 214.7 L595.1 216.9 L595.4 214.8 L595.7 218.6 L596.1 217.1 L596.4 217.6 L596.7 214.4 L597.0 218.5 L597.4 219.7 L597.7 220.7 L598.0 217.8 L598.4 222.5 L598.7 222.4 L599.0 225.1 L599.3 220.3 L599.7 222.7 L600.0 223.3 L600.3 225.0 L600.7 222.5 L601.0 225.3 L601.3 223.7 L601.6 222.9 L602.0 221.7 L602.3 227.0 L602.6 224.1 L603.0 224.5 L603.3 220.0 L603.6 223.3 L603.9 222.4 L604.3 220.3 L604.6 219.5 L604.9 223.0 L605.3 220.1 L605.6 223.4 L605.9 221.3 L606.2 226.9 L606.6 225.0 L606.9 226.3 L607.2 222.2 L607.6 226.4 L607.9 224.2 L608.2 228.9 L608.6 226.2 L608.9 230.5 L609.2 230.3 L609.5 229.9 L609.9 230.2 L610.2 236.3 L610.5 236.8 L610.9 239.2 L611.2 238.0 L611.5 241.2 L611.8 240.8 L612.2 240.8 L612.5 236.8 L612.8 241.9 L613.2 237.0 L613.5 239.1 L613.8 237.1 L614.1 240.6 L614.5 236.8 L614.8 240.5 L615.1 236.3 L615.5 236.9 L615.8 234.5 L616.1 235.1 L616.4 231.3 L616.8 234.5 L617.1 230.3 L617.4 232.7 L617.8 229.7 L618.1 232.4 L618.4 230.6 L618.8 233.2 L619.1 233.1 L619.4 236.4 L619.7 234.2 L620.1 235.9 L620.4 234.0 L620.7 236.1 L621.1 232.3 L621.4 234.5 L621.7 231.5 L622.0 233.0 L622.4 231.6 L622.7 232.8 L623.0 230.6 L623.4 232.2 L623.7 228.5 L624.0 232.0 L624.3 229.0 L624.7 231.8 L625.0 230.3 L625.3 233.4 L625.7 230.0 L626.0 232.2 L626.3 229.8 L626.6 231.7 L627.0 230.0 L627.3 233.4 L627.6 232.9 L628.0 234.0 L628.3 229.6 L628.6 234.9 L628.9 232.9 L629.3 236.4 L629.6 234.0 L629.9 237.7 L630.3 234.2 L630.6 238.2 L630.9 236.1 L631.2 240.8 L631.6 236.2 L631.9 239.2 L632.2 237.2 L632.6 238.9 L632.9 236.8 L633.2 236.6 L633.6 234.1 L633.9 237.7 L634.3 235.4 L634.6 238.0 L635.0 238.2 L635.4 240.0 L635.7 237.6 L636.1 241.5 L636.4 237.9 L636.8 243.0 L637.1 241.7 L637.5 242.5 L637.9 241.5 L638.2 245.8 L638.6 243.2 L638.9 246.6 L639.3 244.7 L639.6 247.4 L640.0 245.0 L640.4 249.5 L640.7 244.8 L641.1 248.0 L641.4 245.8 L641.8 248.2 L642.1 246.7 L642.5 247.5 L642.9 247.8 L643.2 249.5 L643.6 245.8 L643.9 247.6 L644.3 244.6 L644.6 246.1 L645.0 245.0 L645.4 246.6 L645.7 242.6 L646.1 244.9 L646.4 238.1 L646.8 239.4 L647.1 236.4 L647.5 240.0 L647.9 235.4 L648.2 239.2 L648.6 237.5 L648.9 238.3 L649.3 235.3 L649.6 238.6 L650.0 235.0 L650.4 237.7 L650.7 235.1 L651.1 236.9 L651.4 236.0 L651.8 239.5 L652.1 236.8 L652.5 237.5 L652.9 235.8 L653.2 240.7 L653.6 237.9 L653.9 242.2 L654.3 239.7 L654.6 243.9 L655.0 240.0 L655.4 243.5 L655.7 242.3 L656.1 244.5 L656.4 239.7 L656.8 242.8 L657.1 239.9 L657.5 238.8 L657.9 235.6 L658.2 240.9 L658.6 239.7 L658.9 243.3 L659.3 241.4 L659.6 242.8 L660.0 242.5 L660.4 244.2 L660.7 242.1 L661.1 243.6 L661.4 239.3 L661.8 243.5 L662.1 240.1 L662.5 243.8 L662.9 243.8 L663.2 246.5 L663.6 242.9 L663.9 243.3 L664.3 240.2 L664.6 242.0 L665.0 241.2 L665.4 241.4 L665.7 239.2 L666.1 244.3 L666.4 241.0 L666.8 245.4 L667.1 243.0 L667.5 242.5 L667.9 242.9 L668.2 245.0 L668.6 240.9 L668.9 244.3 L669.3 240.9 L669.6 242.8 L670.0 238.8 L670.4 241.2 L670.7 236.8 L671.1 239.0 L671.4 237.7 L671.8 238.7 L672.1 234.9 L672.5 235.0 L672.9 234.9 L673.2 238.1 L673.6 235.9 L673.9 240.0 L674.3 236.0 L674.6 240.9 L675.0 236.2 L675.4 239.7 L675.7 236.1 L676.1 239.1 L676.4 236.4 L676.8 241.4 L677.1 238.1 L677.5 237.5 L677.9 238.2 L678.2 240.3 L678.6 238.7 L678.9 242.4 L679.3 237.7 L679.6 242.7 L680.0 236.2 L680.4 240.1 L680.7 236.7 L681.1 236.7 L681.4 233.9 L681.8 237.9 L682.1 234.8 L682.5 235.0 L682.9 233.2 L683.2 234.4 L683.6 232.9 L683.9 235.8 L684.3 230.8 L684.6 234.5 L685.0 232.5" stroke="#7E2F8E" stroke-width="1.9"/>
<path d="M62.0 140.0 L62.3 141.3 L62.7 138.7 L63.0 137.5 L63.4 138.4 L63.7 141.7 L64.1 138.4 L64.4 141.7 L64.8 140.2 L65.1 143.4 L65.5 141.2 L65.9 143.7 L66.2 140.1 L66.6 140.5 L66.9 136.6 L67.3 139.3 L67.6 135.8 L68.0 137.5 L68.3 133.1 L68.6 132.1 L68.9 126.3 L69.2 125.0 L69.6 124.7 L70.0 128.1 L70.3 125.2 L70.7 128.1 L71.0 126.6 L71.4 130.0 L71.8 130.0 L72.1 128.6 L72.4 125.2 L72.7 126.6 L73.0 125.0 L73.4 126.0 L73.7 123.0 L74.1 126.4 L74.4 123.9 L74.8 127.2 L75.1 124.1 L75.5 123.8 L75.9 124.9 L76.2 126.8 L76.6 124.1 L76.9 126.8 L77.3 124.3 L77.6 126.7 L78.0 125.0 L78.4 126.3 L78.7 123.8 L79.1 127.1 L79.4 124.9 L79.8 127.5 L80.1 124.9 L80.5 127.5 L80.9 127.3 L81.2 130.0 L81.6 128.1 L81.9 131.3 L82.3 129.0 L82.6 132.5 L83.0 132.5 L83.4 134.9 L83.7 132.6 L84.1 136.7 L84.4 134.9 L84.8 138.1 L85.1 136.4 L85.5 137.5 L85.9 135.4 L86.2 138.0 L86.6 135.3 L86.9 136.5 L87.3 134.3 L87.6 137.1 L88.0 135.0 L88.4 135.1 L88.7 132.8 L89.1 135.1 L89.4 131.7 L89.8 133.8 L90.1 129.9 L90.5 131.2 L90.9 129.6 L91.2 131.7 L91.6 128.2 L91.9 130.6 L92.3 127.9 L92.6 131.0 L93.0 128.8 L93.4 129.5 L93.7 127.3 L94.1 129.5 L94.4 127.3 L94.8 129.6 L95.1 127.1 L95.5 127.5 L95.9 126.2 L96.2 129.4 L96.6 126.6 L96.9 129.5 L97.3 125.2 L97.6 128.5 L98.0 127.5 L98.4 128.3 L98.7 125.6 L99.1 131.7 L99.4 125.8 L99.8 130.2 L100.1 127.4 L100.5 130.0 L100.9 127.9 L101.2 132.4 L101.6 129.8 L101.9 133.3 L102.3 129.2 L102.6 132.9 L103.0 131.2 L103.4 133.5 L103.7 130.0 L104.1 134.1 L104.4 131.6 L104.8 134.3 L105.1 130.4 L105.5 132.5 L105.9 129.8 L106.2 135.4 L106.6 130.9 L106.9 133.0 L107.3 129.8 L107.6 133.7 L108.0 131.2 L108.4 133.0 L108.7 130.0 L109.1 132.6 L109.4 131.0 L109.8 133.8 L110.1 130.9 L110.5 132.5 L110.9 132.1 L111.2 134.4 L111.6 132.2 L111.9 136.8 L112.3 132.3 L112.6 135.5 L113.0 133.8 L113.4 134.2 L113.7 131.6 L114.1 133.6 L114.4 131.3 L114.8 134.4 L115.1 132.3 L115.5 132.5 L115.9 131.0 L116.2 133.8 L116.6 131.7 L116.9 134.0 L117.3 130.9 L117.6 134.1 L118.0 135.0 L118.4 134.1 L118.7 131.6 L119.1 134.7 L119.4 133.8 L119.8 137.6 L120.1 134.5 L120.5 136.2 L120.9 136.7 L121.2 140.5 L121.6 138.2 L121.9 141.1 L122.3 137.6 L122.6 139.5 L123.0 138.8 L123.4 140.4 L123.7 137.4 L124.1 139.1 L124.4 137.3 L124.8 138.9 L125.1 136.0 L125.5 140.0 L125.9 136.7 L126.2 139.8 L126.6 137.7 L126.9 142.0 L127.3 137.6 L127.6 140.5 L128.0 138.8 L128.4 140.8 L128.7 139.9 L129.1 144.7 L129.4 138.5 L129.8 142.3 L130.1 140.5 L130.5 141.2 L130.9 141.7 L131.2 145.2 L131.6 141.6 L131.9 145.3 L132.3 143.4 L132.6 146.1 L133.0 143.8 L133.4 145.7 L133.7 141.5 L134.1 145.5 L134.4 143.0 L134.8 145.3 L135.1 143.1 L135.5 145.0 L135.9 142.8 L136.2 146.4 L136.6 142.7 L136.9 145.2 L137.3 143.0 L137.6 144.8 L138.0 142.5 L138.4 145.9 L138.7 140.8 L139.1 143.6 L139.4 141.9 L139.8 144.2 L140.1 140.7 L140.5 143.8 L140.9 141.5 L141.2 145.3 L141.6 141.3 L141.9 143.4 L142.3 139.7 L142.6 142.5 L143.0 142.5 L143.4 142.6 L143.7 139.9 L144.1 143.0 L144.4 139.2 L144.8 143.3 L145.1 139.5 L145.5 140.0 L145.9 137.7 L146.2 141.9 L146.6 138.9 L146.9 140.6 L147.3 137.3 L147.6 140.0 L148.0 138.8 L148.4 139.4 L148.7 136.4 L149.1 138.9 L149.4 136.3 L149.8 139.3 L150.1 135.4 L150.5 137.5 L150.9 135.1 L151.2 136.9 L151.6 134.6 L151.9 137.3 L152.3 134.2 L152.6 137.0 L153.0 136.2 L153.4 138.4 L153.7 136.6 L154.1 139.9 L154.4 138.3 L154.8 140.3 L155.1 136.7 L155.5 140.0 L155.8 139.3 L156.2 142.9 L156.5 142.1 L156.9 146.0 L157.2 142.8 L157.6 147.3 L157.9 145.9 L158.2 147.5 L158.6 146.4 L159.0 148.1 L159.3 146.7 L159.7 149.7 L160.0 145.8 L160.4 148.5 L160.8 146.2 L161.1 148.0 L161.5 145.2 L161.8 148.2 L162.2 144.4 L162.5 146.8 L162.9 143.5 L163.2 145.0 L163.6 142.8 L164.0 144.5 L164.3 141.7 L164.7 144.1 L165.0 141.4 L165.4 142.0 L165.8 140.0 L166.1 141.6 L166.5 138.7 L166.8 141.2 L167.2 136.7 L167.5 138.1 L167.9 134.5 L168.2 135.0 L168.6 133.2 L169.0 135.4 L169.3 132.4 L169.7 133.5 L170.0 131.3 L170.4 134.2 L170.8 131.2 L171.1 133.1 L171.5 128.0 L171.8 132.5 L172.2 128.8 L172.5 130.7 L172.9 127.4 L173.2 128.8 L173.6 128.2 L174.0 131.3 L174.3 130.0 L174.7 133.6 L175.0 130.7 L175.4 133.8 L175.8 132.5 L176.1 133.2 L176.5 129.8 L176.8 132.9 L177.2 129.4 L177.5 132.9 L177.9 129.1 L178.2 130.0 L178.6 128.0 L179.0 129.9 L179.3 126.7 L179.7 129.8 L180.0 127.2 L180.4 129.8 L180.8 127.5 L181.1 130.3 L181.5 128.7 L181.8 131.1 L182.2 128.4 L182.5 131.9 L182.9 130.4 L183.2 132.5 L183.6 130.3 L184.0 132.7 L184.3 129.5 L184.7 133.1 L185.0 130.2 L185.4 132.2 L185.8 131.2 L186.1 132.2 L186.5 127.8 L186.8 131.7 L187.2 127.7 L187.5 130.3 L187.9 126.7 L188.2 127.5 L188.6 126.0 L189.0 128.5 L189.3 126.7 L189.7 128.8 L190.0 125.3 L190.4 127.2 L190.8 125.0 L191.1 125.7 L191.5 123.2 L191.8 125.4 L192.2 122.8 L192.5 124.5 L192.9 122.2 L193.2 122.5 L193.6 119.8 L193.9 120.6 L194.2 116.5 L194.5 115.0 L194.9 117.0 L195.2 122.8 L195.6 120.9 L195.9 126.0 L196.3 125.6 L196.6 131.2 L197.0 131.2 L197.4 134.1 L197.7 131.6 L198.1 134.3 L198.4 131.6 L198.8 136.9 L199.1 135.0 L199.5 136.2 L199.9 135.2 L200.2 137.7 L200.6 134.8 L200.9 138.6 L201.3 135.6 L201.6 137.6 L202.0 137.5 L202.4 137.0 L202.7 135.9 L203.1 139.6 L203.4 136.1 L203.8 138.8 L204.1 135.7 L204.5 137.5 L204.9 137.1 L205.2 138.8 L205.6 136.5 L205.9 139.8 L206.3 136.9 L206.6 140.5 L207.0 138.8 L207.4 140.0 L207.7 137.7 L208.1 140.5 L208.4 137.5 L208.8 140.3 L209.1 137.1 L209.5 138.8 L209.9 138.7 L210.2 141.8 L210.6 138.7 L210.9 142.1 L211.3 139.8 L211.6 142.7 L212.0 140.0 L212.4 142.7 L212.7 139.4 L213.1 143.3 L213.4 140.8 L213.8 142.9 L214.1 139.1 L214.5 141.2 L214.9 139.2 L215.2 142.0 L215.6 140.4 L215.9 144.0 L216.3 141.5 L216.6 145.4 L217.0 143.8 L217.4 144.6 L217.7 142.0 L218.1 144.3 L218.4 142.6 L218.8 145.5 L219.1 142.9 L219.5 145.0 L219.9 142.6 L220.2 145.7 L220.6 143.3 L220.9 145.9 L221.3 143.7 L221.6 146.5 L222.0 146.2 L222.4 147.4 L222.7 144.3 L223.1 148.0 L223.4 144.6 L223.8 147.4 L224.1 144.9 L224.5 147.5 L224.9 146.5 L225.2 148.6 L225.6 146.6 L225.9 149.5 L226.3 147.9 L226.6 151.0 L227.0 150.0 L227.4 154.2 L227.7 148.6 L228.1 151.1 L228.4 147.6 L228.8 149.6 L229.1 147.7 L229.5 148.8 L229.9 148.2 L230.2 149.9 L230.6 147.3 L230.9 150.4 L231.3 146.2 L231.6 149.7 L232.0 148.8 L232.4 148.8 L232.7 145.9 L233.1 148.1 L233.4 146.1 L233.8 148.1 L234.1 146.1 L234.5 147.5 L234.9 146.1 L235.2 149.7 L235.6 146.1 L235.9 149.4 L236.3 147.1 L236.6 151.6 L237.0 150.0 L237.4 153.1 L237.7 151.2 L238.1 153.7 L238.4 150.9 L238.8 153.8 L239.1 148.3 L239.5 152.8 L239.9 151.2 L240.2 153.4 L240.6 150.8 L240.9 153.8 L241.3 151.3 L241.6 153.7 L242.0 151.2 L242.4 153.6 L242.7 151.0 L243.1 153.0 L243.4 150.3 L243.8 153.4 L244.1 149.6 L244.5 152.4 L244.9 149.9 L245.2 153.0 L245.6 150.5 L245.9 152.8 L246.3 146.9 L246.6 151.8 L247.0 152.5 L247.4 152.8 L247.7 150.5 L248.1 154.1 L248.4 150.5 L248.8 155.0 L249.1 151.4 L249.5 154.1 L249.9 152.7 L250.2 156.1 L250.6 154.2 L250.9 157.0 L251.3 155.5 L251.6 157.4 L252.0 155.0 L252.3 157.6 L252.7 155.5 L253.0 158.7 L253.4 155.7 L253.7 157.9 L254.0 155.0 L254.4 156.6 L254.7 152.9 L255.1 156.9 L255.4 152.8 L255.8 157.5 L256.1 156.1 L256.4 161.8 L256.7 158.7 L257.0 162.5 L257.3 162.2 L257.7 165.8 L258.0 163.9 L258.3 168.6 L258.7 167.2 L259.0 171.2 L259.4 166.9 L259.7 168.2 L260.1 163.4 L260.4 164.9 L260.8 162.5 L261.1 165.0 L261.5 163.1 L261.8 165.8 L262.2 163.8 L262.5 166.7 L262.9 164.6 L263.2 167.5 L263.6 165.4 L264.0 168.2 L264.3 165.8 L264.7 169.8 L265.0 167.0 L265.4 170.8 L265.8 168.8 L266.1 169.7 L266.5 167.2 L266.8 169.4 L267.2 166.7 L267.5 169.3 L267.9 165.6 L268.2 165.0 L268.6 164.1 L268.9 166.5 L269.3 164.5 L269.6 166.8 L270.0 163.4 L270.3 165.2 L270.6 161.4 L271.0 165.3 L271.3 162.0 L271.7 164.1 L272.0 162.5 L272.3 163.7 L272.7 160.7 L273.0 163.7 L273.4 160.9 L273.7 163.5 L274.0 160.3 L274.4 161.8 L274.7 159.7 L275.1 162.1 L275.4 159.1 L275.8 161.2 L276.1 159.2 L276.4 161.7 L276.8 159.9 L277.1 162.8 L277.5 159.3 L277.8 162.0 L278.1 159.0 L278.5 161.7 L278.8 158.3 L279.2 161.5 L279.5 158.8 L279.8 161.7 L280.2 158.5 L280.5 160.7 L280.9 158.3 L281.2 159.7 L281.5 156.7 L281.9 159.4 L282.2 155.8 L282.6 158.4 L282.9 155.9 L283.2 157.5 L283.6 154.9 L283.9 158.3 L284.3 154.9 L284.6 158.2 L285.0 155.3 L285.3 158.6 L285.6 155.1 L286.0 157.3 L286.3 155.2 L286.7 157.9 L287.0 156.2 L287.3 158.7 L287.7 155.1 L288.0 157.5 L288.4 154.6 L288.7 157.3 L289.0 154.2 L289.4 156.6 L289.7 154.1 L290.1 157.0 L290.4 154.9 L290.8 155.0 L291.1 154.2 L291.5 156.4 L291.8 153.3 L292.2 157.9 L292.5 153.9 L292.9 155.8 L293.2 152.5 L293.6 153.6 L293.9 148.7 L294.2 150.1 L294.5 147.5 L294.8 149.6 L295.2 147.4 L295.5 152.0 L295.8 150.3 L296.2 155.1 L296.5 155.0 L296.8 156.9 L297.2 154.2 L297.5 157.9 L297.8 155.1 L298.2 158.2 L298.5 156.0 L298.8 159.1 L299.2 155.3 L299.5 156.2 L299.8 155.4 L300.2 157.5 L300.5 154.2 L300.9 156.1 L301.2 151.6 L301.5 156.7 L301.9 153.3 L302.2 155.6 L302.6 152.8 L302.9 156.2 L303.2 153.8 L303.6 154.8 L303.9 152.3 L304.3 154.3 L304.6 151.5 L305.0 155.5 L305.3 152.5 L305.6 156.0 L306.0 151.8 L306.3 154.2 L306.7 151.8 L307.0 152.5 L307.3 151.1 L307.7 154.5 L308.0 151.5 L308.4 153.6 L308.7 151.5 L309.0 154.0 L309.4 151.5 L309.7 154.4 L310.1 152.3 L310.4 155.6 L310.8 155.0 L311.1 155.3 L311.4 152.9 L311.8 156.0 L312.1 153.1 L312.5 155.0 L312.8 153.7 L313.1 155.9 L313.5 153.4 L313.8 155.6 L314.2 152.3 L314.5 153.8 L314.8 151.9 L315.2 154.7 L315.5 150.6 L315.9 153.5 L316.2 150.2 L316.5 153.6 L316.9 150.4 L317.2 151.8 L317.6 149.2 L317.9 152.0 L318.2 151.2 L318.6 151.4 L318.9 149.2 L319.3 152.4 L319.6 148.5 L320.0 151.6 L320.3 148.8 L320.6 151.4 L321.0 149.3 L321.3 152.1 L321.7 149.4 L322.0 150.0 L322.3 148.0 L322.7 150.6 L323.0 147.5 L323.4 150.7 L323.7 147.7 L324.0 151.1 L324.4 147.6 L324.7 151.7 L325.1 147.4 L325.4 150.2 L325.8 148.8 L326.1 149.2 L326.4 147.2 L326.8 149.8 L327.1 145.4 L327.5 151.2 L327.8 147.4 L328.1 149.8 L328.5 146.7 L328.8 152.0 L329.2 146.4 L329.5 148.8 L329.8 145.1 L330.2 148.2 L330.5 145.4 L330.9 148.2 L331.2 146.5 L331.5 148.8 L331.9 145.6 L332.2 148.3 L332.6 145.3 L332.9 147.4 L333.2 146.2 L333.6 147.6 L333.9 144.5 L334.3 147.5 L334.6 144.6 L335.0 147.3 L335.3 143.4 L335.6 146.2 L336.0 143.3 L336.3 146.0 L336.7 144.1 L337.0 145.0 L337.3 143.9 L337.7 146.1 L338.0 144.9 L338.3 148.3 L338.7 145.8 L339.0 148.4 L339.3 145.7 L339.7 148.5 L340.0 147.5 L340.4 149.2 L340.7 145.7 L341.1 149.1 L341.4 145.3 L341.8 148.0 L342.1 144.1 L342.5 145.0 L342.9 142.5 L343.2 142.5 L343.6 139.0 L343.9 139.5 L344.3 135.4 L344.6 135.7 L345.0 132.5 L345.4 130.8 L345.7 124.2 L346.1 124.2 L346.4 118.9 L346.8 117.4 L347.1 110.7 L347.5 110.0 L347.9 109.4 L348.2 113.9 L348.6 111.9 L348.9 115.5 L349.3 114.0 L349.6 117.7 L350.0 117.5 L350.3 121.3 L350.6 121.0 L350.9 125.1 L351.2 127.5 L351.6 127.0 L351.9 122.0 L352.2 122.4 L352.5 120.0 L352.8 120.3 L353.1 116.2 L353.4 117.6 L353.8 115.0 L354.1 118.4 L354.4 118.2 L354.7 122.6 L355.0 122.5 L355.4 124.9 L355.7 123.8 L356.1 127.4 L356.4 127.5 L356.8 131.7 L357.1 129.7 L357.5 132.5 L357.9 131.4 L358.2 134.7 L358.6 133.1 L358.9 134.8 L359.3 132.9 L359.6 135.5 L360.0 135.0 L360.4 135.6 L360.7 132.6 L361.1 134.6 L361.4 132.5 L361.8 134.7 L362.1 132.9 L362.5 132.5 L362.9 131.4 L363.2 133.7 L363.6 131.6 L363.9 133.7 L364.3 130.9 L364.6 134.3 L365.0 132.5 L365.4 132.9 L365.7 129.8 L366.1 132.8 L366.4 128.9 L366.8 133.3 L367.1 128.9 L367.5 131.2 L367.9 129.0 L368.2 131.8 L368.6 128.4 L368.9 132.3 L369.3 129.0 L369.6 131.1 L370.0 130.0 L370.4 130.6 L370.7 128.2 L371.1 131.6 L371.4 128.7 L371.8 131.4 L372.1 127.4 L372.5 128.8 L372.9 127.8 L373.2 130.9 L373.6 128.3 L373.9 131.9 L374.3 129.7 L374.6 131.3 L375.0 130.0 L375.4 132.1 L375.7 129.0 L376.1 132.6 L376.4 128.6 L376.8 132.4 L377.1 130.5 L377.5 131.2 L377.9 130.7 L378.2 133.6 L378.6 131.6 L378.9 134.3 L379.3 132.1 L379.6 135.1 L380.0 133.8 L380.4 136.5 L380.7 131.3 L381.1 136.1 L381.4 133.7 L381.8 137.1 L382.1 134.6 L382.5 135.0 L382.9 134.6 L383.2 136.6 L383.6 133.7 L383.9 135.5 L384.3 132.7 L384.6 134.8 L385.0 133.8 L385.4 134.3 L385.7 131.7 L386.1 135.2 L386.4 132.5 L386.8 134.2 L387.1 130.8 L387.5 132.5 L387.9 130.7 L388.2 133.4 L388.6 131.3 L388.9 132.8 L389.3 130.7 L389.6 133.0 L390.0 131.2 L390.4 131.9 L390.7 128.3 L391.1 131.9 L391.4 129.1 L391.8 131.0 L392.1 127.9 L392.5 130.0 L392.9 127.2 L393.2 130.0 L393.6 128.0 L393.9 132.8 L394.3 128.2 L394.6 132.9 L395.0 132.5 L395.4 133.3 L395.7 131.2 L396.1 133.3 L396.4 130.7 L396.8 133.2 L397.1 131.6 L397.5 133.8 L397.9 131.7 L398.2 134.8 L398.6 133.2 L398.9 137.1 L399.3 134.6 L399.6 137.9 L400.0 136.2 L400.4 139.3 L400.7 136.4 L401.1 139.4 L401.4 136.8 L401.8 139.3 L402.1 136.4 L402.5 138.8 L402.9 137.6 L403.2 141.9 L403.6 140.2 L403.9 143.6 L404.3 140.1 L404.6 143.8 L405.0 142.5 L405.4 144.0 L405.7 142.5 L406.1 144.0 L406.4 141.3 L406.8 144.2 L407.1 141.0 L407.5 141.2 L407.9 140.4 L408.2 143.4 L408.6 139.5 L408.9 141.8 L409.3 135.4 L409.6 140.6 L410.0 140.0 L410.4 140.9 L410.7 137.3 L411.1 139.8 L411.4 136.8 L411.8 139.8 L412.1 136.7 L412.5 138.8 L412.9 136.8 L413.2 138.8 L413.6 137.2 L413.9 138.2 L414.3 135.5 L414.6 137.7 L415.0 136.2 L415.4 137.6 L415.7 134.7 L416.1 135.8 L416.4 132.7 L416.8 135.6 L417.1 131.7 L417.5 132.5 L417.9 130.9 L418.2 133.6 L418.6 130.1 L418.9 132.2 L419.3 129.7 L419.6 132.0 L420.0 130.0 L420.4 132.3 L420.7 128.1 L421.1 130.6 L421.4 125.6 L421.8 129.7 L422.1 125.8 L422.5 127.5 L422.9 126.8 L423.2 129.3 L423.6 126.8 L423.9 131.1 L424.3 130.1 L424.6 134.4 L425.0 131.2 L425.4 134.6 L425.7 133.2 L426.1 136.0 L426.4 133.9 L426.8 136.9 L427.1 133.6 L427.5 137.5 L427.9 136.4 L428.2 141.7 L428.6 138.3 L428.9 144.2 L429.3 143.4 L429.6 147.7 L430.0 147.5 L430.4 152.1 L430.7 148.1 L431.1 152.1 L431.4 151.2 L431.8 154.9 L432.1 153.2 L432.5 157.5 L432.7 175.0 L433.1 178.6 L433.4 177.2 L433.7 182.5 L434.0 180.5 L434.3 184.5 L434.6 184.5 L435.0 188.0 L435.3 187.7 L435.6 193.1 L435.9 192.4 L436.2 194.8 L436.5 191.8 L436.8 194.8 L437.2 194.6 L437.5 195.5 L437.8 195.6 L438.1 198.0 L438.4 195.9 L438.7 200.3 L439.1 198.7 L439.4 200.4 L439.7 197.9 L440.0 201.8 L440.3 199.7 L440.6 201.9 L441.0 202.5 L441.3 205.6 L441.6 203.4 L441.9 206.5 L442.2 206.6 L442.5 208.2 L442.8 206.0 L443.2 209.0 L443.5 207.0 L443.8 209.0 L444.1 206.7 L444.4 208.9 L444.7 205.0 L445.1 206.9 L445.4 203.4 L445.7 204.3 L446.0 200.0 L446.3 201.4 L446.6 195.7 L447.0 195.5 L447.3 193.8 L447.7 195.2 L448.0 193.5 L448.4 195.5 L448.7 191.2 L449.1 194.0 L449.4 191.2 L449.8 193.9 L450.1 190.8 L450.5 191.9 L450.8 188.3 L451.2 191.7 L451.5 187.7 L451.9 189.6 L452.2 187.3 L452.6 188.2 L452.9 186.0 L453.3 187.6 L453.6 185.0 L454.0 187.9 L454.3 184.8 L454.7 187.0 L455.0 184.7 L455.4 187.9 L455.7 185.7 L456.1 188.8 L456.4 184.5 L456.8 188.1 L457.1 183.9 L457.5 189.1 L457.8 186.6 L458.2 188.9 L458.5 186.2 L458.9 189.3 L459.2 186.8 L459.6 189.2 L459.9 187.5 L460.3 190.7 L460.6 187.6 L461.0 192.1 L461.4 188.7 L461.7 192.1 L462.1 190.3 L462.4 192.3 L462.8 190.8 L463.1 192.1 L463.4 190.6 L463.8 193.7 L464.1 191.0 L464.4 193.6 L464.8 189.9 L465.1 193.3 L465.5 189.7 L465.8 192.6 L466.1 190.0 L466.5 193.2 L466.8 189.5 L467.2 193.5 L467.5 192.4 L467.8 194.5 L468.2 192.4 L468.5 196.5 L468.8 194.7 L469.2 197.6 L469.5 196.2 L469.9 198.9 L470.2 195.9 L470.6 199.7 L470.9 197.3 L471.3 199.6 L471.6 198.2 L472.0 200.0 L472.4 198.4 L472.7 201.8 L473.1 199.8 L473.4 202.4 L473.8 200.4 L474.1 202.5 L474.5 202.5 L474.9 203.7 L475.2 202.0 L475.6 204.0 L475.9 200.3 L476.3 204.2 L476.6 202.3 L477.0 202.5 L477.4 199.3 L477.7 200.0 L478.1 194.2 L478.4 195.0 L478.8 189.1 L479.1 189.4 L479.5 185.0 L479.9 187.7 L480.2 184.0 L480.6 186.5 L480.9 184.3 L481.3 187.1 L481.6 183.6 L482.0 185.0 L482.4 183.9 L482.7 186.2 L483.1 185.0 L483.4 187.7 L483.8 185.2 L484.1 188.0 L484.5 187.5 L484.9 188.5 L485.2 186.3 L485.6 189.4 L485.9 187.8 L486.3 190.6 L486.6 188.6 L487.0 190.0 L487.4 190.2 L487.7 193.6 L488.1 190.8 L488.4 194.5 L488.8 191.0 L489.1 193.7 L489.5 195.0 L489.9 195.2 L490.2 192.1 L490.6 195.7 L490.9 193.2 L491.3 195.8 L491.6 192.7 L492.0 195.0 L492.4 193.4 L492.7 197.1 L493.1 194.4 L493.4 197.6 L493.8 195.6 L494.1 198.5 L494.5 197.5 L494.9 199.5 L495.2 198.7 L495.6 200.8 L495.9 199.2 L496.3 202.4 L496.6 199.4 L497.0 200.0 L497.4 198.8 L497.7 202.2 L498.1 199.2 L498.4 201.9 L498.8 199.9 L499.1 204.9 L499.5 202.5 L499.9 204.3 L500.2 201.5 L500.6 202.8 L500.9 199.9 L501.3 201.3 L501.6 198.1 L502.0 201.2 L502.4 196.4 L502.7 202.6 L503.1 201.0 L503.4 204.6 L503.8 201.5 L504.1 204.7 L504.5 205.0 L504.9 208.8 L505.2 204.7 L505.6 208.6 L505.9 206.6 L506.3 210.3 L506.6 208.7 L507.0 210.0 L507.4 210.8 L507.7 214.5 L508.1 211.5 L508.4 214.7 L508.8 211.6 L509.1 216.3 L509.5 215.0 L509.9 216.8 L510.2 215.6 L510.6 219.4 L510.9 218.1 L511.3 224.0 L511.6 219.6 L512.0 222.5 L512.4 221.2 L512.7 224.6 L513.1 223.0 L513.4 227.9 L513.8 226.4 L514.1 229.0 L514.5 230.0 L515.0 231.8 L515.3 230.5 L515.7 234.4 L516.0 233.0 L516.3 235.8 L516.7 236.6 L517.0 242.2 L517.4 246.3 L517.7 244.7 L518.0 240.1 L518.3 239.7 L518.6 235.6 L518.9 236.2 L519.3 233.1 L519.6 234.5 L519.9 231.8 L520.3 233.8 L520.6 228.0 L520.9 232.4 L521.2 228.6 L521.6 229.2 L521.9 226.4 L522.2 229.1 L522.6 225.0 L522.9 226.6 L523.2 225.1 L523.6 228.1 L523.9 225.3 L524.2 227.0 L524.5 224.0 L524.9 225.3 L525.2 222.0 L525.5 224.9 L525.9 222.1 L526.2 224.6 L526.5 220.5 L526.8 222.6 L527.2 220.2 L527.5 223.1 L527.8 219.4 L528.2 220.0 L528.5 218.3 L528.8 218.8 L529.2 215.4 L529.5 215.0 L529.9 213.3 L530.2 214.5 L530.6 210.1 L530.9 211.6 L531.3 209.1 L531.6 210.9 L532.0 207.5 L532.4 208.2 L532.7 204.7 L533.1 206.9 L533.4 204.3 L533.8 206.3 L534.1 202.1 L534.5 202.5 L534.9 201.2 L535.2 203.7 L535.6 199.0 L535.9 199.4 L536.3 195.0 L536.6 197.4 L537.0 195.0 L537.4 195.5 L537.7 192.1 L538.1 195.2 L538.4 192.5 L538.8 195.0 L539.1 192.9 L539.5 193.8 L539.9 191.3 L540.2 195.2 L540.6 193.8 L540.9 197.9 L541.3 195.3 L541.6 198.0 L542.0 197.5 L542.4 199.1 L542.7 195.5 L543.1 199.9 L543.4 197.5 L543.8 199.6 L544.1 196.2 L544.5 200.0 L544.9 197.2 L545.2 202.5 L545.6 199.1 L545.9 201.8 L546.3 199.6 L546.6 203.0 L547.0 202.5 L547.4 204.4 L547.7 202.5 L548.1 205.4 L548.4 202.3 L548.8 206.0 L549.1 203.5 L549.5 205.0 L549.9 205.7 L550.2 210.2 L550.6 207.9 L550.9 212.0 L551.3 211.1 L551.6 214.6 L552.0 215.0 L552.4 215.3 L552.7 210.5 L553.1 212.7 L553.4 207.5 L553.8 208.4 L554.1 204.8 L554.5 205.0 L554.9 204.1 L555.2 206.9 L555.6 203.2 L555.9 205.7 L556.3 203.3 L556.6 205.5 L557.0 203.8 L557.4 204.6 L557.7 201.1 L558.1 204.7 L558.4 200.8 L558.8 204.7 L559.1 201.3 L559.5 202.5 L560.0 202.1 L560.3 202.1 L560.7 200.6 L561.0 203.8 L561.3 198.7 L561.6 202.5 L562.0 196.6 L562.3 201.0 L562.6 199.5 L563.0 199.9 L563.3 198.2 L563.6 200.7 L563.9 197.7 L564.3 199.4 L564.6 196.2 L564.9 197.3 L565.3 196.8 L565.6 196.8 L566.0 193.9 L566.3 197.2 L566.7 195.4 L567.0 197.7 L567.4 197.9 L567.7 198.8 L568.1 196.5 L568.4 199.7 L568.8 196.9 L569.1 200.2 L569.5 198.9 L569.8 199.9 L570.2 197.0 L570.5 199.9 L570.9 197.8 L571.2 200.4 L571.6 199.5 L571.9 200.7 L572.3 198.5 L572.6 201.7 L573.0 198.1 L573.3 201.5 L573.7 200.5 L574.0 201.5 L574.4 197.6 L574.7 198.9 L575.1 196.5 L575.4 198.7 L575.8 197.9 L576.1 197.6 L576.5 192.2 L576.8 196.0 L577.2 192.5 L577.5 195.4 L577.9 193.7 L578.2 193.4 L578.6 191.0 L578.9 193.4 L579.3 191.4 L579.6 194.5 L580.0 191.6 L580.4 194.1 L580.7 190.8 L581.1 193.7 L581.4 192.9 L581.7 196.5 L582.0 195.0 L582.3 197.9 L582.6 197.9 L582.9 200.9 L583.3 198.3 L583.6 202.9 L583.9 201.0 L584.2 202.1 L584.6 202.4 L584.9 206.1 L585.3 203.6 L585.6 207.1 L586.0 204.2 L586.3 206.3 L586.6 205.2 L586.9 208.1 L587.3 207.4 L587.6 210.0 L587.9 207.4 L588.2 209.1 L588.5 206.0 L588.8 209.4 L589.2 204.1 L589.5 205.8 L589.8 202.7 L590.2 206.0 L590.5 204.2 L590.9 206.8 L591.2 204.5 L591.6 205.3 L591.9 203.7 L592.3 206.5 L592.6 204.5 L593.0 207.5 L593.3 203.9 L593.7 206.3 L594.0 205.0 L594.4 207.9 L594.7 204.7 L595.1 208.5 L595.4 206.2 L595.8 208.4 L596.1 207.8 L596.5 211.7 L596.8 209.7 L597.2 213.3 L597.5 210.6 L597.9 212.6 L598.2 211.3 L598.6 214.9 L598.9 213.0 L599.3 215.8 L599.6 213.8 L600.0 215.8 L600.4 213.3 L600.7 217.0 L601.1 213.8 L601.4 216.5 L601.8 212.8 L602.1 214.7 L602.5 213.7 L602.8 215.6 L603.2 212.7 L603.5 214.9 L603.9 211.8 L604.2 212.6 L604.6 210.9 L604.9 213.6 L605.3 209.8 L605.6 211.9 L606.0 207.8 L606.3 208.4 L606.6 208.8 L606.9 212.1 L607.3 209.9 L607.6 215.1 L607.9 211.6 L608.2 215.3 L608.5 214.0 L608.8 216.5 L609.2 215.0 L609.5 216.8 L609.8 215.9 L610.2 220.0 L610.5 216.8 L610.9 219.9 L611.2 218.2 L611.6 220.0 L611.9 218.1 L612.2 221.2 L612.5 220.0 L612.9 219.6 L613.2 216.8 L613.6 219.5 L613.9 217.2 L614.3 221.0 L614.6 218.5 L615.0 218.8 L615.4 217.7 L615.7 220.5 L616.1 219.1 L616.4 222.3 L616.8 220.4 L617.1 225.2 L617.5 222.5 L617.9 225.9 L618.2 225.2 L618.6 227.5 L618.9 225.5 L619.3 229.1 L619.6 225.9 L620.0 230.0 L620.4 228.0 L620.7 231.6 L621.1 231.0 L621.4 234.4 L621.8 233.2 L622.1 235.6 L622.5 235.0 L622.9 234.8 L623.2 230.9 L623.6 231.9 L623.9 228.3 L624.3 231.2 L624.6 228.6 L625.0 227.5 L625.4 227.9 L625.7 230.8 L626.1 226.4 L626.4 229.2 L626.8 224.8 L627.1 226.2 L627.5 225.0 L627.9 225.2 L628.2 223.2 L628.6 226.6 L628.9 223.6 L629.3 226.5 L629.6 224.6 L630.0 227.5 L630.4 225.6 L630.7 228.0 L631.1 226.8 L631.4 229.8 L631.8 225.9 L632.1 229.6 L632.5 230.0 L632.9 230.8 L633.2 228.9 L633.6 232.0 L633.9 228.9 L634.3 233.8 L634.6 230.3 L635.0 232.5 L635.4 230.1 L635.7 233.7 L636.1 231.5 L636.4 235.0 L636.8 232.4 L637.1 233.9 L637.5 233.8 L637.9 235.9 L638.2 232.2 L638.6 235.3 L638.9 232.7 L639.3 235.0 L639.6 234.0 L640.0 235.0 L640.4 233.4 L640.7 236.0 L641.1 233.4 L641.4 236.4 L641.8 232.5 L642.1 236.0 L642.5 233.8 L642.9 234.9 L643.2 232.1 L643.6 233.8 L643.9 230.3 L644.3 232.9 L644.6 229.5 L645.0 232.5 L645.4 229.5 L645.7 233.0 L646.1 230.5 L646.4 233.1 L646.8 229.8 L647.1 233.1 L647.5 231.2 L647.9 231.9 L648.2 228.4 L648.6 230.6 L648.9 229.0 L649.3 230.4 L649.6 226.0 L650.0 227.5 L650.4 224.7 L650.7 228.5 L651.1 225.1 L651.4 228.3 L651.8 224.2 L652.1 226.9 L652.5 226.2 L652.9 228.0 L653.2 226.6 L653.6 230.0 L653.9 225.7 L654.3 229.6 L654.6 226.5 L655.0 227.5 L655.4 226.4 L655.7 230.1 L656.1 226.3 L656.4 228.6 L656.8 224.6 L657.1 227.3 L657.5 225.0 L657.9 225.6 L658.2 222.1 L658.6 223.6 L658.9 220.6 L659.3 222.2 L659.6 220.4 L660.0 220.0 L660.4 215.8 L660.7 216.7 L661.1 212.6 L661.4 213.3 L661.8 208.8 L662.1 209.3 L662.5 205.0 L662.9 205.9 L663.2 203.4 L663.6 205.5 L663.9 202.2 L664.3 204.7 L664.6 202.4 L665.0 202.5 L665.4 202.2 L665.7 204.7 L666.1 203.3 L666.4 205.3 L666.8 203.2 L667.1 207.5 L667.5 205.0 L667.9 207.1 L668.2 203.1 L668.6 205.0 L668.9 202.1 L669.3 204.1 L669.6 201.5 L670.0 202.5 L670.4 201.1 L670.7 203.8 L671.1 200.0 L671.4 203.8 L671.8 199.3 L672.1 202.1 L672.5 200.0 L672.9 200.6 L673.2 197.2 L673.6 198.8 L673.9 192.9 L674.3 196.6 L674.6 193.5 L675.0 192.5 L675.3 189.0 L675.6 189.6 L675.9 184.8 L676.2 183.8 L676.6 184.5 L676.9 188.2 L677.2 187.5 L677.5 190.0 L677.9 189.4 L678.2 193.0 L678.6 190.7 L678.9 194.5 L679.3 191.7 L679.6 196.4 L680.0 196.2 L680.4 197.1 L680.7 195.1 L681.1 199.1 L681.4 193.5 L681.8 197.4 L682.1 194.8 L682.5 197.5 L682.9 194.0 L683.2 196.4 L683.6 193.9 L683.9 195.6 L684.3 193.2 L684.6 195.7 L685.0 195.0" stroke="#77AC30" stroke-width="1.9"/>
</g>
<g fill="#000" font-size="16">
<text x="62.00" y="352" text-anchor="middle">0</text><text x="162.38" y="352" text-anchor="middle">5</text><text x="262.77" y="352" text-anchor="middle">10</text><text x="363.16" y="352" text-anchor="middle">15</text><text x="463.54" y="352" text-anchor="middle">20</text><text x="563.93" y="352" text-anchor="middle">25</text><text x="664.31" y="352" text-anchor="middle">30</text>
<text x="54.2" y="310.10" text-anchor="end">0.4</text><text x="54.2" y="257.14" text-anchor="end">0.6</text><text x="54.2" y="204.18" text-anchor="end">0.8</text><text x="54.2" y="151.22" text-anchor="end">1</text><text x="54.2" y="98.26" text-anchor="end">1.2</text><text x="54.2" y="45.30" text-anchor="end">1.4</text>
</g>
<text x="370.6" y="15.7" font-size="18.2" text-anchor="middle" fill="#000">Down-trend with high volatility</text>
<text x="374" y="376" font-size="18" text-anchor="middle" fill="#000">Time (days)</text>
<text transform="translate(16.0,174.7) rotate(-90)" font-size="18" text-anchor="middle" fill="#000">Price ratio (P<tspan font-size="14" dy="8">i</tspan><tspan dy="-8"> / BTC)</tspan></text>
<g>
<rect x="74.6" y="293" width="481.6" height="24.6" fill="#fff" stroke="#262626" stroke-width="1.3"/>
<line x1="81.7" y1="305.4" x2="131.4" y2="305.4" stroke="#0072BD" stroke-width="1.3"/><text x="137.2" y="311.6" font-size="14.4" fill="#000">AXS</text><line x1="178.4" y1="305.4" x2="228.10000000000002" y2="305.4" stroke="#D95319" stroke-width="1.3"/><text x="233.9" y="311.6" font-size="14.4" fill="#000">CHZ</text><line x1="276.9" y1="305.4" x2="326.59999999999997" y2="305.4" stroke="#EDB120" stroke-width="1.3"/><text x="332.4" y="311.6" font-size="14.4" fill="#000">FIL</text><line x1="366.8" y1="305.4" x2="416.5" y2="305.4" stroke="#7E2F8E" stroke-width="1.3"/><text x="422.3" y="311.6" font-size="14.4" fill="#000">FTM</text><line x1="465.3" y1="305.4" x2="515.0" y2="305.4" stroke="#77AC30" stroke-width="1.3"/><text x="520.8" y="311.6" font-size="14.4" fill="#000">GRT</text>
</g>
</svg>
</body></html>
